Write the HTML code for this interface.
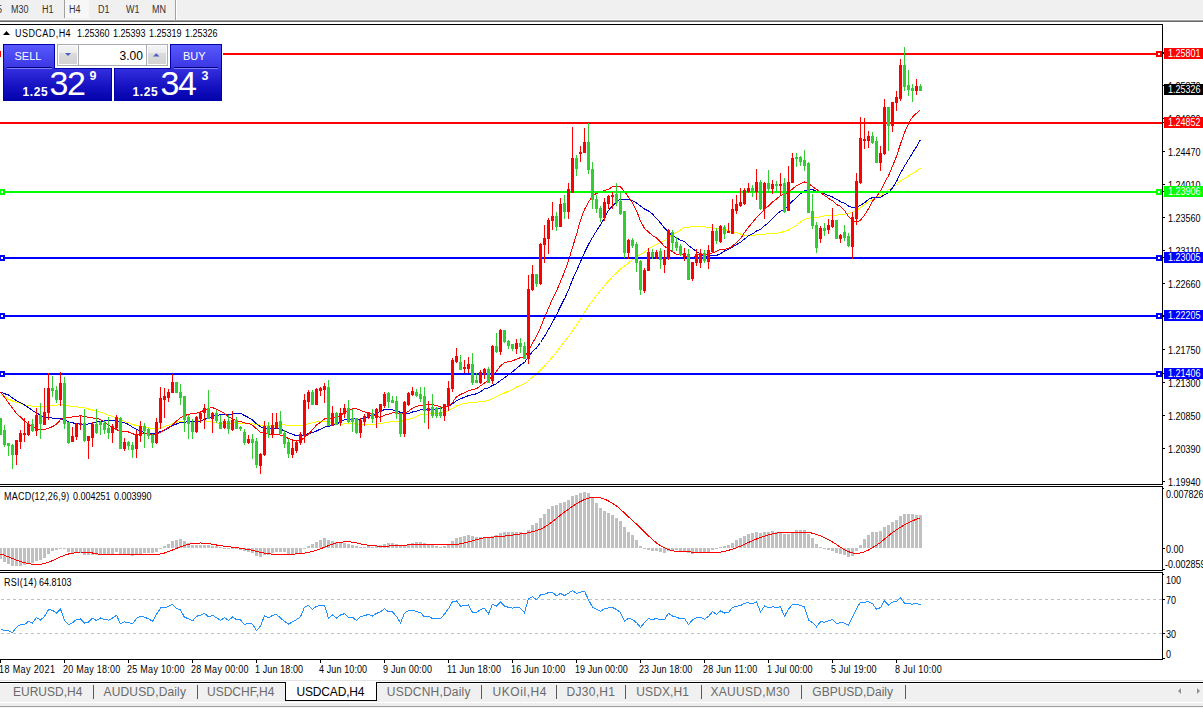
<!DOCTYPE html>
<html><head><meta charset="utf-8"><style>
*{margin:0;padding:0;box-sizing:border-box}
html,body{width:1203px;height:708px;overflow:hidden;background:#fff}
body{position:relative;font-family:"Liberation Sans",sans-serif}
.t{position:absolute;white-space:nowrap;font-size:10px;line-height:10px;color:#000;transform:scaleX(0.9);transform-origin:0 0}
.w{color:#fff}
.tb{color:#333}
.p{position:absolute;white-space:nowrap;color:#fff;line-height:1}
.hd{letter-spacing:0.5px}
svg{position:absolute;left:0;top:0}
</style></head><body>
<svg width="1203" height="708" shape-rendering="crispEdges">
<defs>
<clipPath id="cmain"><rect x="0" y="25" width="1162" height="459"/></clipPath>
<clipPath id="cmacd"><rect x="0" y="487" width="1162" height="83"/></clipPath>
<clipPath id="crsi"><rect x="0" y="573" width="1162" height="86"/></clipPath>
</defs>
<rect x="0" y="0" width="1203" height="19" fill="#f0f0f0"/>
<rect x="0" y="19" width="1203" height="1" fill="#f7f7f7"/>
<rect x="0" y="20" width="1203" height="1" fill="#a0a0a0"/>
<rect x="0" y="21" width="1203" height="1" fill="#696969"/>
<rect x="65" y="0" width="24" height="18" fill="#f7f7f7"/>
<rect x="64" y="0" width="1" height="18" fill="#a0a0a0"/>
<rect x="175" y="0" width="1" height="20" fill="#a0a0a0"/>
<rect x="176" y="0" width="1" height="20" fill="#ffffff"/>
<rect x="0" y="24" width="1163" height="1" fill="#000"/>
<rect x="1162" y="24" width="1" height="461" fill="#000"/>
<rect x="0" y="484" width="1163" height="1" fill="#000"/>
<rect x="0" y="486" width="1163" height="1" fill="#000"/>
<rect x="1162" y="486" width="1" height="85" fill="#000"/>
<rect x="0" y="570" width="1163" height="1" fill="#000"/>
<rect x="0" y="572" width="1163" height="1" fill="#000"/>
<rect x="1162" y="572" width="1" height="88" fill="#000"/>
<rect x="0" y="659" width="1163" height="1" fill="#000"/>
<g clip-path="url(#cmain)">
<polyline points="0.5,394.7 4.5,397.0 8.5,399.1 12.5,401.0 16.5,402.4 20.5,403.3 24.5,404.9 28.5,405.4 32.5,406.3 36.5,406.6 40.5,406.9 44.5,406.8 48.5,406.1 52.5,405.6 56.5,405.1 60.5,404.6 64.5,405.1 68.5,405.9 72.5,406.9 76.5,407.0 80.5,407.4 84.5,407.9 88.5,409.0 92.5,410.0 96.5,411.2 100.5,412.1 104.5,413.6 108.5,415.1 112.5,416.7 116.5,417.6 120.5,419.7 124.5,421.2 128.5,422.9 132.5,424.5 136.5,425.5 140.5,426.4 144.5,427.1 148.5,427.6 152.5,428.5 156.5,428.7 160.5,427.8 164.5,426.6 168.5,425.3 172.5,423.5 176.5,422.3 180.5,421.4 184.5,421.0 188.5,421.0 192.5,421.0 196.5,421.1 200.5,420.9 204.5,420.7 208.5,421.5 212.5,422.0 216.5,422.6 220.5,423.7 224.5,423.6 228.5,423.3 232.5,422.9 236.5,423.0 240.5,423.1 244.5,423.2 248.5,423.2 252.5,423.7 256.5,424.5 260.5,425.2 264.5,425.1 268.5,425.2 272.5,425.2 276.5,425.3 280.5,424.9 284.5,425.0 288.5,425.2 292.5,425.2 296.5,425.3 300.5,425.5 304.5,424.8 308.5,423.7 312.5,422.7 316.5,421.9 320.5,421.6 324.5,421.4 328.5,422.2 332.5,423.0 336.5,423.8 340.5,424.2 344.5,423.9 348.5,423.9 352.5,423.6 356.5,424.0 360.5,424.2 364.5,424.4 368.5,424.2 372.5,424.4 376.5,424.1 380.5,423.5 384.5,422.8 388.5,422.1 392.5,421.7 396.5,421.3 400.5,421.5 404.5,420.5 408.5,419.3 412.5,418.1 416.5,416.3 420.5,414.9 424.5,414.5 428.5,413.9 432.5,413.6 436.5,413.5 440.5,413.0 444.5,412.0 448.5,410.4 452.5,408.2 456.5,406.0 460.5,404.4 464.5,403.6 468.5,402.9 472.5,402.3 476.5,402.1 480.5,401.8 484.5,401.3 488.5,400.2 492.5,398.6 496.5,396.7 500.5,394.7 504.5,393.0 508.5,391.1 512.5,389.3 516.5,387.0 520.5,385.2 524.5,383.7 528.5,380.6 532.5,377.0 536.5,373.9 540.5,369.9 544.5,366.0 548.5,361.5 552.5,356.8 556.5,352.2 560.5,346.4 564.5,341.6 568.5,336.5 572.5,330.7 576.5,325.0 580.5,318.9 584.5,312.2 588.5,306.2 592.5,300.8 596.5,295.6 600.5,290.7 604.5,285.6 608.5,280.9 612.5,276.7 616.5,272.9 620.5,269.0 624.5,266.1 628.5,263.0 632.5,259.6 636.5,256.6 640.5,254.5 644.5,252.0 648.5,248.8 652.5,246.5 656.5,244.1 660.5,242.3 664.5,240.2 668.5,237.3 672.5,234.7 676.5,232.3 680.5,230.0 684.5,227.4 688.5,227.1 692.5,226.8 696.5,226.1 700.5,226.3 704.5,226.9 708.5,227.6 712.5,228.0 716.5,228.4 720.5,228.9 724.5,229.5 728.5,230.5 732.5,231.8 736.5,232.7 740.5,234.0 744.5,235.2 748.5,235.6 752.5,235.4 756.5,234.8 760.5,234.6 764.5,234.1 768.5,233.9 772.5,233.6 776.5,233.2 780.5,232.5 784.5,231.5 788.5,230.0 792.5,227.8 796.5,225.3 800.5,222.0 804.5,219.4 808.5,218.4 812.5,217.6 816.5,217.5 820.5,216.7 824.5,216.0 828.5,215.9 832.5,215.4 836.5,215.1 840.5,214.6 844.5,214.2 848.5,213.4 852.5,212.3 856.5,210.4 860.5,207.6 864.5,204.5 868.5,201.7 872.5,199.5 876.5,197.5 880.5,195.7 884.5,192.5 888.5,189.9 892.5,187.2 896.5,184.5 900.5,181.1 904.5,178.5 908.5,176.0 912.5,173.5 916.5,171.1 920.5,168.1" fill="none" stroke="#ffff00" stroke-width="1"/>
<polyline points="0.5,392.0 4.5,393.7 8.5,395.0 12.5,398.0 16.5,400.6 20.5,402.8 24.5,405.0 28.5,407.7 32.5,410.5 36.5,413.1 40.5,415.0 44.5,417.3 48.5,417.5 52.5,418.1 56.5,418.9 60.5,418.4 64.5,420.0 68.5,421.8 72.5,422.8 76.5,423.6 80.5,424.1 84.5,424.3 88.5,424.0 92.5,423.0 96.5,422.0 100.5,421.2 104.5,421.0 108.5,420.9 112.5,421.0 116.5,420.4 120.5,422.0 124.5,422.9 128.5,424.4 132.5,427.3 136.5,429.4 140.5,430.7 144.5,432.9 148.5,433.5 152.5,433.5 156.5,432.9 160.5,431.6 164.5,430.4 168.5,428.1 172.5,425.5 176.5,424.0 180.5,422.3 184.5,422.1 188.5,421.8 192.5,421.8 196.5,421.4 200.5,421.2 204.5,419.3 208.5,418.1 212.5,416.6 216.5,415.2 220.5,414.9 224.5,414.6 228.5,414.6 232.5,413.9 236.5,413.2 240.5,413.4 244.5,415.5 248.5,417.5 252.5,419.9 256.5,423.8 260.5,426.7 264.5,428.1 268.5,428.8 272.5,428.9 276.5,428.5 280.5,429.3 284.5,430.7 288.5,432.9 292.5,434.3 296.5,435.7 300.5,436.3 304.5,435.0 308.5,433.7 312.5,432.5 316.5,431.0 320.5,429.1 324.5,427.1 328.5,426.3 332.5,425.1 336.5,424.2 340.5,421.8 344.5,419.6 348.5,419.4 352.5,418.8 356.5,419.1 360.5,419.0 364.5,418.2 368.5,416.7 372.5,415.0 376.5,413.2 380.5,411.4 384.5,409.5 388.5,409.5 392.5,410.0 396.5,410.4 400.5,412.6 404.5,413.3 408.5,413.6 412.5,412.0 416.5,411.1 420.5,409.9 424.5,409.7 428.5,409.7 432.5,409.4 436.5,409.2 440.5,408.3 444.5,407.6 448.5,406.2 452.5,403.7 456.5,400.8 460.5,398.9 464.5,397.1 468.5,395.6 472.5,394.7 476.5,393.8 480.5,391.8 484.5,388.8 488.5,387.8 492.5,385.5 496.5,383.6 500.5,380.5 504.5,377.8 508.5,374.7 512.5,371.8 516.5,368.4 520.5,365.1 524.5,362.4 528.5,356.9 532.5,351.5 536.5,347.9 540.5,342.5 544.5,336.3 548.5,329.3 552.5,322.3 556.5,314.9 560.5,306.4 564.5,298.7 568.5,290.2 572.5,279.6 576.5,271.1 580.5,261.6 584.5,252.6 588.5,244.4 592.5,237.5 596.5,230.9 600.5,224.8 604.5,218.0 608.5,210.3 612.5,205.8 616.5,202.4 620.5,199.0 624.5,199.4 628.5,199.5 632.5,200.7 636.5,202.9 640.5,205.9 644.5,209.0 648.5,210.9 652.5,214.1 656.5,218.6 660.5,222.9 664.5,228.0 668.5,232.2 672.5,235.6 676.5,237.9 680.5,240.1 684.5,241.8 688.5,245.5 692.5,248.6 696.5,251.5 700.5,253.9 704.5,256.1 708.5,256.0 712.5,255.6 716.5,255.4 720.5,253.7 724.5,251.0 728.5,249.2 732.5,247.1 736.5,244.7 740.5,242.3 744.5,239.0 748.5,235.7 752.5,233.9 756.5,231.0 760.5,229.2 764.5,225.8 768.5,222.7 772.5,218.2 776.5,214.5 780.5,211.2 784.5,209.2 788.5,205.4 792.5,201.1 796.5,197.6 800.5,193.8 804.5,190.9 808.5,189.9 812.5,189.6 816.5,191.4 820.5,192.5 824.5,193.8 828.5,195.5 832.5,197.0 836.5,199.2 840.5,201.7 844.5,203.1 848.5,206.0 852.5,207.4 856.5,207.3 860.5,205.1 864.5,202.9 868.5,199.4 872.5,197.5 876.5,197.6 880.5,197.4 884.5,194.8 888.5,192.9 892.5,187.7 896.5,181.6 900.5,172.9 904.5,166.2 908.5,159.5 912.5,153.0 916.5,146.7 920.5,139.6" fill="none" stroke="#0000cd" stroke-width="1"/>
<polyline points="0.5,391.8 4.5,397.0 8.5,403.0 12.5,408.2 16.5,413.6 20.5,417.0 24.5,421.0 28.5,424.0 32.5,426.6 36.5,428.4 40.5,429.7 44.5,429.6 48.5,428.2 52.5,426.6 56.5,424.1 60.5,419.7 64.5,418.2 68.5,417.3 72.5,417.0 76.5,416.4 80.5,415.7 84.5,416.8 88.5,417.2 92.5,417.9 96.5,418.6 100.5,419.4 104.5,422.3 108.5,425.2 112.5,427.2 116.5,429.6 120.5,431.4 124.5,431.4 128.5,432.0 132.5,433.8 136.5,434.6 140.5,433.6 144.5,433.1 148.5,433.9 152.5,434.6 156.5,434.5 160.5,432.3 164.5,429.8 168.5,427.4 172.5,424.9 176.5,421.0 180.5,417.8 184.5,415.9 188.5,414.1 192.5,413.8 196.5,413.2 200.5,412.0 204.5,410.1 208.5,408.3 212.5,407.6 216.5,409.1 220.5,411.4 224.5,413.4 228.5,416.7 232.5,418.7 236.5,420.9 240.5,421.6 244.5,422.9 248.5,423.5 252.5,425.2 256.5,428.8 260.5,432.2 264.5,432.8 268.5,434.2 272.5,434.6 276.5,434.2 280.5,435.1 284.5,436.2 288.5,438.6 292.5,440.0 296.5,441.0 300.5,440.4 304.5,437.6 308.5,434.1 312.5,429.7 316.5,425.1 320.5,422.3 324.5,419.0 328.5,418.9 332.5,418.3 336.5,417.6 340.5,415.5 344.5,412.3 348.5,410.3 352.5,408.9 356.5,408.8 360.5,410.2 364.5,411.9 368.5,412.5 372.5,414.6 376.5,416.1 380.5,417.4 384.5,415.2 388.5,414.3 392.5,412.7 396.5,412.7 400.5,414.5 404.5,413.2 408.5,411.2 412.5,408.3 416.5,406.5 420.5,405.2 424.5,405.0 428.5,404.3 432.5,404.8 436.5,405.5 440.5,407.0 444.5,407.3 448.5,406.3 452.5,402.4 456.5,396.9 460.5,394.5 464.5,392.6 468.5,390.7 472.5,389.7 476.5,388.6 480.5,385.9 484.5,383.1 488.5,380.7 492.5,375.7 496.5,371.2 500.5,365.9 504.5,362.6 508.5,361.5 512.5,360.9 516.5,359.1 520.5,357.6 524.5,357.2 528.5,350.5 532.5,342.8 536.5,336.5 540.5,327.6 544.5,317.3 548.5,308.3 552.5,298.7 556.5,291.3 560.5,281.5 564.5,271.9 568.5,260.6 572.5,247.4 576.5,234.7 580.5,220.0 584.5,209.5 588.5,202.0 592.5,196.0 596.5,193.4 600.5,191.9 604.5,190.7 608.5,189.2 612.5,186.9 616.5,186.8 620.5,186.9 624.5,191.4 628.5,197.2 632.5,202.8 636.5,210.6 640.5,221.1 644.5,228.3 648.5,232.1 652.5,235.5 656.5,238.0 660.5,242.0 664.5,246.4 668.5,249.0 672.5,251.8 676.5,254.2 680.5,254.4 684.5,255.3 688.5,257.8 692.5,257.8 696.5,255.3 700.5,254.1 704.5,254.7 708.5,254.3 712.5,252.8 716.5,251.5 720.5,249.2 724.5,249.4 728.5,248.6 732.5,246.0 736.5,242.4 740.5,238.8 744.5,232.4 748.5,227.1 752.5,222.6 756.5,217.5 760.5,213.8 764.5,209.0 768.5,206.0 772.5,202.0 776.5,199.1 780.5,195.5 784.5,194.1 788.5,192.2 792.5,188.9 796.5,185.8 800.5,183.7 804.5,182.0 808.5,183.5 812.5,186.5 816.5,189.3 820.5,192.5 824.5,195.4 828.5,198.3 832.5,200.8 836.5,204.6 840.5,206.4 844.5,210.3 848.5,216.5 852.5,220.7 856.5,222.2 860.5,220.3 864.5,215.1 868.5,208.7 872.5,201.3 876.5,196.5 880.5,191.1 884.5,182.7 888.5,175.8 892.5,166.2 896.5,156.3 900.5,144.0 904.5,132.7 908.5,123.5 912.5,116.9 916.5,113.2 920.5,109.7" fill="none" stroke="#ff0000" stroke-width="1"/>
</g>
<rect x="0" y="53" width="1162" height="2" fill="#ff0000"/>
<rect x="0" y="122" width="1162" height="2" fill="#ff0000"/>
<rect x="0" y="191" width="1162" height="2" fill="#00ff00"/>
<rect x="0" y="257" width="1162" height="2" fill="#0000ff"/>
<rect x="0" y="315" width="1162" height="2" fill="#0000ff"/>
<rect x="0" y="373" width="1162" height="2" fill="#0000ff"/>
<g clip-path="url(#cmain)">
<rect x="0" y="418" width="1" height="17" fill="#32cd32"/>
<rect x="-1" y="418" width="3" height="17" fill="#32cd32"/>
<rect x="4" y="425" width="1" height="22" fill="#32cd32"/>
<rect x="3" y="430" width="3" height="15" fill="#32cd32"/>
<rect x="8" y="443" width="1" height="13" fill="#32cd32"/>
<rect x="7" y="443" width="3" height="3" fill="#32cd32"/>
<rect x="12" y="444" width="1" height="25" fill="#32cd32"/>
<rect x="11" y="445" width="3" height="10" fill="#32cd32"/>
<rect x="16" y="440" width="1" height="25" fill="#ff0000"/>
<rect x="15" y="440" width="3" height="15" fill="#ff0000"/>
<rect x="20" y="430" width="1" height="19" fill="#ff0000"/>
<rect x="19" y="433" width="3" height="9" fill="#ff0000"/>
<rect x="24" y="418" width="1" height="24" fill="#ff0000"/>
<rect x="23" y="433" width="3" height="2" fill="#ff0000"/>
<rect x="28" y="421" width="1" height="15" fill="#ff0000"/>
<rect x="27" y="424" width="3" height="11" fill="#ff0000"/>
<rect x="32" y="419" width="1" height="13" fill="#32cd32"/>
<rect x="31" y="424" width="3" height="7" fill="#32cd32"/>
<rect x="36" y="408" width="1" height="28" fill="#ff0000"/>
<rect x="35" y="415" width="3" height="16" fill="#ff0000"/>
<rect x="40" y="403" width="1" height="36" fill="#32cd32"/>
<rect x="39" y="415" width="3" height="9" fill="#32cd32"/>
<rect x="44" y="388" width="1" height="37" fill="#ff0000"/>
<rect x="43" y="412" width="3" height="13" fill="#ff0000"/>
<rect x="48" y="373" width="1" height="47" fill="#ff0000"/>
<rect x="47" y="388" width="3" height="25" fill="#ff0000"/>
<rect x="52" y="376" width="1" height="21" fill="#32cd32"/>
<rect x="51" y="388" width="3" height="3" fill="#32cd32"/>
<rect x="56" y="386" width="1" height="17" fill="#32cd32"/>
<rect x="55" y="390" width="3" height="10" fill="#32cd32"/>
<rect x="60" y="372" width="1" height="34" fill="#ff0000"/>
<rect x="59" y="383" width="3" height="17" fill="#ff0000"/>
<rect x="64" y="377" width="1" height="52" fill="#32cd32"/>
<rect x="63" y="383" width="3" height="41" fill="#32cd32"/>
<rect x="68" y="422" width="1" height="22" fill="#32cd32"/>
<rect x="67" y="422" width="3" height="21" fill="#32cd32"/>
<rect x="72" y="427" width="1" height="15" fill="#ff0000"/>
<rect x="71" y="436" width="3" height="6" fill="#ff0000"/>
<rect x="76" y="423" width="1" height="17" fill="#ff0000"/>
<rect x="75" y="424" width="3" height="13" fill="#ff0000"/>
<rect x="80" y="415" width="1" height="15" fill="#ff0000"/>
<rect x="79" y="423" width="3" height="2" fill="#ff0000"/>
<rect x="84" y="409" width="1" height="33" fill="#32cd32"/>
<rect x="83" y="423" width="3" height="18" fill="#32cd32"/>
<rect x="88" y="436" width="1" height="23" fill="#ff0000"/>
<rect x="87" y="436" width="3" height="5" fill="#ff0000"/>
<rect x="92" y="422" width="1" height="25" fill="#ff0000"/>
<rect x="91" y="424" width="3" height="14" fill="#ff0000"/>
<rect x="96" y="409" width="1" height="25" fill="#32cd32"/>
<rect x="95" y="424" width="3" height="9" fill="#32cd32"/>
<rect x="100" y="421" width="1" height="14" fill="#32cd32"/>
<rect x="99" y="422" width="3" height="3" fill="#32cd32"/>
<rect x="104" y="421" width="1" height="13" fill="#32cd32"/>
<rect x="103" y="423" width="3" height="7" fill="#32cd32"/>
<rect x="108" y="417" width="1" height="22" fill="#32cd32"/>
<rect x="107" y="428" width="3" height="5" fill="#32cd32"/>
<rect x="112" y="424" width="1" height="19" fill="#ff0000"/>
<rect x="111" y="426" width="3" height="7" fill="#ff0000"/>
<rect x="116" y="415" width="1" height="14" fill="#ff0000"/>
<rect x="115" y="417" width="3" height="11" fill="#ff0000"/>
<rect x="120" y="417" width="1" height="32" fill="#32cd32"/>
<rect x="119" y="418" width="3" height="31" fill="#32cd32"/>
<rect x="124" y="438" width="1" height="13" fill="#ff0000"/>
<rect x="123" y="442" width="3" height="7" fill="#ff0000"/>
<rect x="128" y="441" width="1" height="9" fill="#32cd32"/>
<rect x="127" y="442" width="3" height="4" fill="#32cd32"/>
<rect x="132" y="442" width="1" height="16" fill="#32cd32"/>
<rect x="131" y="445" width="3" height="5" fill="#32cd32"/>
<rect x="136" y="430" width="1" height="28" fill="#ff0000"/>
<rect x="135" y="434" width="3" height="15" fill="#ff0000"/>
<rect x="140" y="421" width="1" height="21" fill="#ff0000"/>
<rect x="139" y="426" width="3" height="10" fill="#ff0000"/>
<rect x="144" y="423" width="1" height="25" fill="#32cd32"/>
<rect x="143" y="426" width="3" height="5" fill="#32cd32"/>
<rect x="148" y="428" width="1" height="11" fill="#32cd32"/>
<rect x="147" y="429" width="3" height="7" fill="#32cd32"/>
<rect x="152" y="434" width="1" height="14" fill="#32cd32"/>
<rect x="151" y="435" width="3" height="8" fill="#32cd32"/>
<rect x="156" y="418" width="1" height="26" fill="#ff0000"/>
<rect x="155" y="422" width="3" height="21" fill="#ff0000"/>
<rect x="160" y="387" width="1" height="42" fill="#ff0000"/>
<rect x="159" y="398" width="3" height="25" fill="#ff0000"/>
<rect x="164" y="388" width="1" height="30" fill="#ff0000"/>
<rect x="163" y="396" width="3" height="4" fill="#ff0000"/>
<rect x="168" y="389" width="1" height="13" fill="#ff0000"/>
<rect x="167" y="392" width="3" height="6" fill="#ff0000"/>
<rect x="172" y="374" width="1" height="19" fill="#ff0000"/>
<rect x="171" y="382" width="3" height="11" fill="#ff0000"/>
<rect x="176" y="382" width="1" height="11" fill="#32cd32"/>
<rect x="175" y="382" width="3" height="11" fill="#32cd32"/>
<rect x="180" y="384" width="1" height="21" fill="#32cd32"/>
<rect x="179" y="392" width="3" height="6" fill="#32cd32"/>
<rect x="184" y="396" width="1" height="36" fill="#32cd32"/>
<rect x="183" y="396" width="3" height="24" fill="#32cd32"/>
<rect x="188" y="415" width="1" height="24" fill="#32cd32"/>
<rect x="187" y="417" width="3" height="7" fill="#32cd32"/>
<rect x="192" y="419" width="1" height="20" fill="#32cd32"/>
<rect x="191" y="422" width="3" height="10" fill="#32cd32"/>
<rect x="196" y="416" width="1" height="17" fill="#ff0000"/>
<rect x="195" y="417" width="3" height="15" fill="#ff0000"/>
<rect x="200" y="412" width="1" height="11" fill="#ff0000"/>
<rect x="199" y="413" width="3" height="6" fill="#ff0000"/>
<rect x="204" y="404" width="1" height="25" fill="#ff0000"/>
<rect x="203" y="408" width="3" height="5" fill="#ff0000"/>
<rect x="208" y="390" width="1" height="29" fill="#32cd32"/>
<rect x="207" y="408" width="3" height="11" fill="#32cd32"/>
<rect x="212" y="412" width="1" height="21" fill="#ff0000"/>
<rect x="211" y="413" width="3" height="6" fill="#ff0000"/>
<rect x="216" y="410" width="1" height="13" fill="#32cd32"/>
<rect x="215" y="413" width="3" height="8" fill="#32cd32"/>
<rect x="220" y="415" width="1" height="14" fill="#32cd32"/>
<rect x="219" y="422" width="3" height="7" fill="#32cd32"/>
<rect x="224" y="419" width="1" height="10" fill="#ff0000"/>
<rect x="223" y="421" width="3" height="7" fill="#ff0000"/>
<rect x="228" y="415" width="1" height="19" fill="#32cd32"/>
<rect x="227" y="421" width="3" height="8" fill="#32cd32"/>
<rect x="232" y="411" width="1" height="20" fill="#ff0000"/>
<rect x="231" y="420" width="3" height="10" fill="#ff0000"/>
<rect x="236" y="417" width="1" height="12" fill="#32cd32"/>
<rect x="235" y="420" width="3" height="9" fill="#32cd32"/>
<rect x="240" y="426" width="1" height="5" fill="#32cd32"/>
<rect x="239" y="427" width="3" height="2" fill="#32cd32"/>
<rect x="244" y="429" width="1" height="16" fill="#32cd32"/>
<rect x="243" y="432" width="3" height="11" fill="#32cd32"/>
<rect x="248" y="435" width="1" height="9" fill="#ff0000"/>
<rect x="247" y="439" width="3" height="4" fill="#ff0000"/>
<rect x="252" y="434" width="1" height="25" fill="#32cd32"/>
<rect x="251" y="439" width="3" height="4" fill="#32cd32"/>
<rect x="256" y="438" width="1" height="30" fill="#32cd32"/>
<rect x="255" y="441" width="3" height="24" fill="#32cd32"/>
<rect x="260" y="453" width="1" height="21" fill="#ff0000"/>
<rect x="259" y="454" width="3" height="12" fill="#ff0000"/>
<rect x="264" y="421" width="1" height="35" fill="#ff0000"/>
<rect x="263" y="426" width="3" height="29" fill="#ff0000"/>
<rect x="268" y="422" width="1" height="16" fill="#32cd32"/>
<rect x="267" y="426" width="3" height="8" fill="#32cd32"/>
<rect x="272" y="413" width="1" height="25" fill="#ff0000"/>
<rect x="271" y="425" width="3" height="9" fill="#ff0000"/>
<rect x="276" y="413" width="1" height="16" fill="#ff0000"/>
<rect x="275" y="422" width="3" height="6" fill="#ff0000"/>
<rect x="280" y="411" width="1" height="23" fill="#32cd32"/>
<rect x="279" y="421" width="3" height="13" fill="#32cd32"/>
<rect x="284" y="430" width="1" height="18" fill="#32cd32"/>
<rect x="283" y="433" width="3" height="11" fill="#32cd32"/>
<rect x="288" y="439" width="1" height="19" fill="#32cd32"/>
<rect x="287" y="442" width="3" height="12" fill="#32cd32"/>
<rect x="292" y="441" width="1" height="17" fill="#ff0000"/>
<rect x="291" y="448" width="3" height="7" fill="#ff0000"/>
<rect x="296" y="440" width="1" height="13" fill="#ff0000"/>
<rect x="295" y="442" width="3" height="9" fill="#ff0000"/>
<rect x="300" y="432" width="1" height="13" fill="#ff0000"/>
<rect x="299" y="434" width="3" height="9" fill="#ff0000"/>
<rect x="304" y="394" width="1" height="49" fill="#ff0000"/>
<rect x="303" y="400" width="3" height="36" fill="#ff0000"/>
<rect x="308" y="390" width="1" height="19" fill="#ff0000"/>
<rect x="307" y="392" width="3" height="10" fill="#ff0000"/>
<rect x="312" y="390" width="1" height="15" fill="#32cd32"/>
<rect x="311" y="392" width="3" height="13" fill="#32cd32"/>
<rect x="316" y="388" width="1" height="17" fill="#ff0000"/>
<rect x="315" y="389" width="3" height="16" fill="#ff0000"/>
<rect x="320" y="387" width="1" height="9" fill="#ff0000"/>
<rect x="319" y="388" width="3" height="3" fill="#ff0000"/>
<rect x="324" y="383" width="1" height="20" fill="#ff0000"/>
<rect x="323" y="386" width="3" height="4" fill="#ff0000"/>
<rect x="328" y="380" width="1" height="46" fill="#32cd32"/>
<rect x="327" y="387" width="3" height="39" fill="#32cd32"/>
<rect x="332" y="406" width="1" height="20" fill="#ff0000"/>
<rect x="331" y="413" width="3" height="13" fill="#ff0000"/>
<rect x="336" y="412" width="1" height="13" fill="#32cd32"/>
<rect x="335" y="413" width="3" height="12" fill="#32cd32"/>
<rect x="340" y="408" width="1" height="18" fill="#ff0000"/>
<rect x="339" y="413" width="3" height="10" fill="#ff0000"/>
<rect x="344" y="404" width="1" height="14" fill="#ff0000"/>
<rect x="343" y="408" width="3" height="6" fill="#ff0000"/>
<rect x="348" y="400" width="1" height="23" fill="#32cd32"/>
<rect x="347" y="408" width="3" height="14" fill="#32cd32"/>
<rect x="352" y="409" width="1" height="23" fill="#32cd32"/>
<rect x="351" y="418" width="3" height="4" fill="#32cd32"/>
<rect x="356" y="418" width="1" height="16" fill="#32cd32"/>
<rect x="355" y="418" width="3" height="15" fill="#32cd32"/>
<rect x="360" y="418" width="1" height="20" fill="#ff0000"/>
<rect x="359" y="420" width="3" height="13" fill="#ff0000"/>
<rect x="364" y="414" width="1" height="12" fill="#ff0000"/>
<rect x="363" y="416" width="3" height="6" fill="#ff0000"/>
<rect x="368" y="412" width="1" height="7" fill="#ff0000"/>
<rect x="367" y="412" width="3" height="6" fill="#ff0000"/>
<rect x="372" y="409" width="1" height="14" fill="#32cd32"/>
<rect x="371" y="413" width="3" height="6" fill="#32cd32"/>
<rect x="376" y="408" width="1" height="20" fill="#ff0000"/>
<rect x="375" y="409" width="3" height="9" fill="#ff0000"/>
<rect x="380" y="404" width="1" height="18" fill="#ff0000"/>
<rect x="379" y="404" width="3" height="8" fill="#ff0000"/>
<rect x="384" y="392" width="1" height="16" fill="#ff0000"/>
<rect x="383" y="394" width="3" height="12" fill="#ff0000"/>
<rect x="388" y="392" width="1" height="16" fill="#32cd32"/>
<rect x="387" y="393" width="3" height="9" fill="#32cd32"/>
<rect x="392" y="396" width="1" height="7" fill="#32cd32"/>
<rect x="391" y="400" width="3" height="3" fill="#32cd32"/>
<rect x="396" y="396" width="1" height="23" fill="#32cd32"/>
<rect x="395" y="401" width="3" height="13" fill="#32cd32"/>
<rect x="400" y="413" width="1" height="24" fill="#32cd32"/>
<rect x="399" y="413" width="3" height="21" fill="#32cd32"/>
<rect x="404" y="401" width="1" height="36" fill="#ff0000"/>
<rect x="403" y="402" width="3" height="32" fill="#ff0000"/>
<rect x="408" y="392" width="1" height="14" fill="#ff0000"/>
<rect x="407" y="393" width="3" height="12" fill="#ff0000"/>
<rect x="412" y="387" width="1" height="9" fill="#ff0000"/>
<rect x="411" y="391" width="3" height="4" fill="#ff0000"/>
<rect x="416" y="389" width="1" height="8" fill="#32cd32"/>
<rect x="415" y="392" width="3" height="4" fill="#32cd32"/>
<rect x="420" y="387" width="1" height="15" fill="#32cd32"/>
<rect x="419" y="394" width="3" height="5" fill="#32cd32"/>
<rect x="424" y="387" width="1" height="36" fill="#32cd32"/>
<rect x="423" y="396" width="3" height="15" fill="#32cd32"/>
<rect x="428" y="401" width="1" height="28" fill="#ff0000"/>
<rect x="427" y="408" width="3" height="3" fill="#ff0000"/>
<rect x="432" y="394" width="1" height="24" fill="#32cd32"/>
<rect x="431" y="407" width="3" height="9" fill="#32cd32"/>
<rect x="436" y="407" width="1" height="11" fill="#32cd32"/>
<rect x="435" y="408" width="3" height="8" fill="#32cd32"/>
<rect x="440" y="407" width="1" height="11" fill="#32cd32"/>
<rect x="439" y="412" width="3" height="4" fill="#32cd32"/>
<rect x="444" y="404" width="1" height="17" fill="#ff0000"/>
<rect x="443" y="404" width="3" height="12" fill="#ff0000"/>
<rect x="448" y="381" width="1" height="30" fill="#ff0000"/>
<rect x="447" y="388" width="3" height="18" fill="#ff0000"/>
<rect x="452" y="358" width="1" height="34" fill="#ff0000"/>
<rect x="451" y="360" width="3" height="29" fill="#ff0000"/>
<rect x="456" y="348" width="1" height="15" fill="#ff0000"/>
<rect x="455" y="356" width="3" height="6" fill="#ff0000"/>
<rect x="460" y="355" width="1" height="15" fill="#32cd32"/>
<rect x="459" y="362" width="3" height="8" fill="#32cd32"/>
<rect x="464" y="360" width="1" height="13" fill="#ff0000"/>
<rect x="463" y="367" width="3" height="2" fill="#ff0000"/>
<rect x="468" y="357" width="1" height="16" fill="#ff0000"/>
<rect x="467" y="364" width="3" height="5" fill="#ff0000"/>
<rect x="472" y="353" width="1" height="32" fill="#32cd32"/>
<rect x="471" y="364" width="3" height="19" fill="#32cd32"/>
<rect x="476" y="373" width="1" height="10" fill="#32cd32"/>
<rect x="475" y="380" width="3" height="3" fill="#32cd32"/>
<rect x="480" y="370" width="1" height="14" fill="#ff0000"/>
<rect x="479" y="372" width="3" height="11" fill="#ff0000"/>
<rect x="484" y="368" width="1" height="11" fill="#ff0000"/>
<rect x="483" y="369" width="3" height="6" fill="#ff0000"/>
<rect x="488" y="367" width="1" height="16" fill="#32cd32"/>
<rect x="487" y="369" width="3" height="14" fill="#32cd32"/>
<rect x="492" y="345" width="1" height="39" fill="#ff0000"/>
<rect x="491" y="346" width="3" height="35" fill="#ff0000"/>
<rect x="496" y="333" width="1" height="20" fill="#32cd32"/>
<rect x="495" y="346" width="3" height="6" fill="#32cd32"/>
<rect x="500" y="329" width="1" height="26" fill="#ff0000"/>
<rect x="499" y="330" width="3" height="22" fill="#ff0000"/>
<rect x="504" y="330" width="1" height="13" fill="#32cd32"/>
<rect x="503" y="330" width="3" height="12" fill="#32cd32"/>
<rect x="508" y="340" width="1" height="9" fill="#32cd32"/>
<rect x="507" y="341" width="3" height="5" fill="#32cd32"/>
<rect x="512" y="344" width="1" height="7" fill="#32cd32"/>
<rect x="511" y="344" width="3" height="5" fill="#32cd32"/>
<rect x="516" y="339" width="1" height="15" fill="#ff0000"/>
<rect x="515" y="343" width="3" height="6" fill="#ff0000"/>
<rect x="520" y="338" width="1" height="15" fill="#32cd32"/>
<rect x="519" y="343" width="3" height="4" fill="#32cd32"/>
<rect x="524" y="342" width="1" height="17" fill="#32cd32"/>
<rect x="523" y="346" width="3" height="13" fill="#32cd32"/>
<rect x="528" y="275" width="1" height="89" fill="#ff0000"/>
<rect x="527" y="289" width="3" height="70" fill="#ff0000"/>
<rect x="532" y="265" width="1" height="26" fill="#ff0000"/>
<rect x="531" y="274" width="3" height="16" fill="#ff0000"/>
<rect x="536" y="274" width="1" height="13" fill="#32cd32"/>
<rect x="535" y="274" width="3" height="10" fill="#32cd32"/>
<rect x="540" y="243" width="1" height="42" fill="#ff0000"/>
<rect x="539" y="244" width="3" height="40" fill="#ff0000"/>
<rect x="544" y="225" width="1" height="38" fill="#ff0000"/>
<rect x="543" y="238" width="3" height="7" fill="#ff0000"/>
<rect x="548" y="218" width="1" height="36" fill="#ff0000"/>
<rect x="547" y="220" width="3" height="19" fill="#ff0000"/>
<rect x="552" y="202" width="1" height="28" fill="#ff0000"/>
<rect x="551" y="216" width="3" height="5" fill="#ff0000"/>
<rect x="556" y="212" width="1" height="19" fill="#32cd32"/>
<rect x="555" y="216" width="3" height="11" fill="#32cd32"/>
<rect x="560" y="198" width="1" height="29" fill="#ff0000"/>
<rect x="559" y="204" width="3" height="23" fill="#ff0000"/>
<rect x="564" y="195" width="1" height="24" fill="#32cd32"/>
<rect x="563" y="203" width="3" height="9" fill="#32cd32"/>
<rect x="568" y="183" width="1" height="36" fill="#ff0000"/>
<rect x="567" y="189" width="3" height="23" fill="#ff0000"/>
<rect x="572" y="127" width="1" height="66" fill="#ff0000"/>
<rect x="571" y="158" width="3" height="35" fill="#ff0000"/>
<rect x="576" y="155" width="1" height="21" fill="#32cd32"/>
<rect x="575" y="158" width="3" height="11" fill="#32cd32"/>
<rect x="580" y="146" width="1" height="16" fill="#ff0000"/>
<rect x="579" y="152" width="3" height="2" fill="#ff0000"/>
<rect x="584" y="128" width="1" height="25" fill="#ff0000"/>
<rect x="583" y="142" width="3" height="11" fill="#ff0000"/>
<rect x="588" y="123" width="1" height="51" fill="#32cd32"/>
<rect x="587" y="142" width="3" height="28" fill="#32cd32"/>
<rect x="592" y="162" width="1" height="47" fill="#32cd32"/>
<rect x="591" y="169" width="3" height="31" fill="#32cd32"/>
<rect x="596" y="195" width="1" height="18" fill="#32cd32"/>
<rect x="595" y="199" width="3" height="10" fill="#32cd32"/>
<rect x="600" y="206" width="1" height="16" fill="#32cd32"/>
<rect x="599" y="208" width="3" height="10" fill="#32cd32"/>
<rect x="604" y="198" width="1" height="23" fill="#ff0000"/>
<rect x="603" y="202" width="3" height="16" fill="#ff0000"/>
<rect x="608" y="195" width="1" height="14" fill="#ff0000"/>
<rect x="607" y="196" width="3" height="8" fill="#ff0000"/>
<rect x="612" y="192" width="1" height="17" fill="#ff0000"/>
<rect x="611" y="195" width="3" height="2" fill="#ff0000"/>
<rect x="616" y="183" width="1" height="23" fill="#32cd32"/>
<rect x="615" y="194" width="3" height="9" fill="#32cd32"/>
<rect x="620" y="192" width="1" height="23" fill="#32cd32"/>
<rect x="619" y="201" width="3" height="13" fill="#32cd32"/>
<rect x="624" y="211" width="1" height="47" fill="#32cd32"/>
<rect x="623" y="211" width="3" height="42" fill="#32cd32"/>
<rect x="628" y="239" width="1" height="20" fill="#ff0000"/>
<rect x="627" y="240" width="3" height="13" fill="#ff0000"/>
<rect x="632" y="238" width="1" height="10" fill="#32cd32"/>
<rect x="631" y="240" width="3" height="6" fill="#32cd32"/>
<rect x="636" y="242" width="1" height="30" fill="#32cd32"/>
<rect x="635" y="244" width="3" height="19" fill="#32cd32"/>
<rect x="640" y="260" width="1" height="35" fill="#32cd32"/>
<rect x="639" y="261" width="3" height="29" fill="#32cd32"/>
<rect x="644" y="268" width="1" height="25" fill="#ff0000"/>
<rect x="643" y="270" width="3" height="21" fill="#ff0000"/>
<rect x="648" y="248" width="1" height="23" fill="#ff0000"/>
<rect x="647" y="252" width="3" height="19" fill="#ff0000"/>
<rect x="652" y="249" width="1" height="10" fill="#32cd32"/>
<rect x="651" y="252" width="3" height="5" fill="#32cd32"/>
<rect x="656" y="250" width="1" height="9" fill="#ff0000"/>
<rect x="655" y="252" width="3" height="5" fill="#ff0000"/>
<rect x="660" y="248" width="1" height="21" fill="#32cd32"/>
<rect x="659" y="251" width="3" height="9" fill="#32cd32"/>
<rect x="664" y="250" width="1" height="23" fill="#ff0000"/>
<rect x="663" y="258" width="3" height="7" fill="#ff0000"/>
<rect x="668" y="229" width="1" height="31" fill="#ff0000"/>
<rect x="667" y="230" width="3" height="29" fill="#ff0000"/>
<rect x="672" y="230" width="1" height="21" fill="#32cd32"/>
<rect x="671" y="232" width="3" height="11" fill="#32cd32"/>
<rect x="676" y="237" width="1" height="14" fill="#32cd32"/>
<rect x="675" y="242" width="3" height="6" fill="#32cd32"/>
<rect x="680" y="244" width="1" height="12" fill="#32cd32"/>
<rect x="679" y="246" width="3" height="9" fill="#32cd32"/>
<rect x="684" y="248" width="1" height="13" fill="#ff0000"/>
<rect x="683" y="253" width="3" height="4" fill="#ff0000"/>
<rect x="688" y="249" width="1" height="31" fill="#32cd32"/>
<rect x="687" y="254" width="3" height="26" fill="#32cd32"/>
<rect x="692" y="262" width="1" height="19" fill="#ff0000"/>
<rect x="691" y="262" width="3" height="17" fill="#ff0000"/>
<rect x="696" y="249" width="1" height="17" fill="#ff0000"/>
<rect x="695" y="254" width="3" height="9" fill="#ff0000"/>
<rect x="700" y="249" width="1" height="19" fill="#ff0000"/>
<rect x="699" y="253" width="3" height="10" fill="#ff0000"/>
<rect x="704" y="250" width="1" height="13" fill="#32cd32"/>
<rect x="703" y="253" width="3" height="8" fill="#32cd32"/>
<rect x="708" y="245" width="1" height="24" fill="#ff0000"/>
<rect x="707" y="250" width="3" height="12" fill="#ff0000"/>
<rect x="712" y="224" width="1" height="28" fill="#ff0000"/>
<rect x="711" y="231" width="3" height="21" fill="#ff0000"/>
<rect x="716" y="228" width="1" height="16" fill="#32cd32"/>
<rect x="715" y="231" width="3" height="10" fill="#32cd32"/>
<rect x="720" y="225" width="1" height="18" fill="#ff0000"/>
<rect x="719" y="226" width="3" height="16" fill="#ff0000"/>
<rect x="724" y="225" width="1" height="14" fill="#32cd32"/>
<rect x="723" y="227" width="3" height="7" fill="#32cd32"/>
<rect x="728" y="223" width="1" height="10" fill="#ff0000"/>
<rect x="727" y="231" width="3" height="2" fill="#ff0000"/>
<rect x="732" y="199" width="1" height="35" fill="#ff0000"/>
<rect x="731" y="209" width="3" height="25" fill="#ff0000"/>
<rect x="736" y="195" width="1" height="19" fill="#ff0000"/>
<rect x="735" y="204" width="3" height="7" fill="#ff0000"/>
<rect x="740" y="188" width="1" height="19" fill="#ff0000"/>
<rect x="739" y="202" width="3" height="4" fill="#ff0000"/>
<rect x="744" y="188" width="1" height="17" fill="#ff0000"/>
<rect x="743" y="190" width="3" height="14" fill="#ff0000"/>
<rect x="748" y="183" width="1" height="10" fill="#ff0000"/>
<rect x="747" y="188" width="3" height="4" fill="#ff0000"/>
<rect x="752" y="185" width="1" height="12" fill="#32cd32"/>
<rect x="751" y="188" width="3" height="4" fill="#32cd32"/>
<rect x="756" y="169" width="1" height="31" fill="#ff0000"/>
<rect x="755" y="182" width="3" height="10" fill="#ff0000"/>
<rect x="760" y="180" width="1" height="30" fill="#32cd32"/>
<rect x="759" y="182" width="3" height="27" fill="#32cd32"/>
<rect x="764" y="182" width="1" height="37" fill="#ff0000"/>
<rect x="763" y="183" width="3" height="26" fill="#ff0000"/>
<rect x="768" y="170" width="1" height="22" fill="#32cd32"/>
<rect x="767" y="183" width="3" height="6" fill="#32cd32"/>
<rect x="772" y="180" width="1" height="14" fill="#ff0000"/>
<rect x="771" y="184" width="3" height="5" fill="#ff0000"/>
<rect x="776" y="181" width="1" height="10" fill="#32cd32"/>
<rect x="775" y="184" width="3" height="2" fill="#32cd32"/>
<rect x="780" y="173" width="1" height="23" fill="#ff0000"/>
<rect x="779" y="184" width="3" height="2" fill="#ff0000"/>
<rect x="784" y="178" width="1" height="35" fill="#32cd32"/>
<rect x="783" y="183" width="3" height="29" fill="#32cd32"/>
<rect x="788" y="166" width="1" height="45" fill="#ff0000"/>
<rect x="787" y="182" width="3" height="29" fill="#ff0000"/>
<rect x="792" y="153" width="1" height="30" fill="#ff0000"/>
<rect x="791" y="158" width="3" height="25" fill="#ff0000"/>
<rect x="796" y="153" width="1" height="14" fill="#32cd32"/>
<rect x="795" y="157" width="3" height="2" fill="#32cd32"/>
<rect x="800" y="156" width="1" height="10" fill="#32cd32"/>
<rect x="799" y="157" width="3" height="5" fill="#32cd32"/>
<rect x="804" y="150" width="1" height="21" fill="#32cd32"/>
<rect x="803" y="160" width="3" height="6" fill="#32cd32"/>
<rect x="808" y="162" width="1" height="51" fill="#32cd32"/>
<rect x="807" y="163" width="3" height="50" fill="#32cd32"/>
<rect x="812" y="194" width="1" height="35" fill="#32cd32"/>
<rect x="811" y="211" width="3" height="15" fill="#32cd32"/>
<rect x="816" y="222" width="1" height="31" fill="#32cd32"/>
<rect x="815" y="225" width="3" height="23" fill="#32cd32"/>
<rect x="820" y="226" width="1" height="17" fill="#ff0000"/>
<rect x="819" y="228" width="3" height="11" fill="#ff0000"/>
<rect x="824" y="223" width="1" height="13" fill="#32cd32"/>
<rect x="823" y="228" width="3" height="3" fill="#32cd32"/>
<rect x="828" y="219" width="1" height="15" fill="#ff0000"/>
<rect x="827" y="225" width="3" height="5" fill="#ff0000"/>
<rect x="832" y="208" width="1" height="20" fill="#ff0000"/>
<rect x="831" y="220" width="3" height="7" fill="#ff0000"/>
<rect x="836" y="220" width="1" height="19" fill="#32cd32"/>
<rect x="835" y="220" width="3" height="19" fill="#32cd32"/>
<rect x="840" y="234" width="1" height="9" fill="#ff0000"/>
<rect x="839" y="235" width="3" height="4" fill="#ff0000"/>
<rect x="844" y="225" width="1" height="16" fill="#32cd32"/>
<rect x="843" y="232" width="3" height="6" fill="#32cd32"/>
<rect x="848" y="233" width="1" height="14" fill="#32cd32"/>
<rect x="847" y="236" width="3" height="10" fill="#32cd32"/>
<rect x="852" y="212" width="1" height="47" fill="#ff0000"/>
<rect x="851" y="217" width="3" height="30" fill="#ff0000"/>
<rect x="856" y="173" width="1" height="52" fill="#ff0000"/>
<rect x="855" y="181" width="3" height="38" fill="#ff0000"/>
<rect x="860" y="117" width="1" height="67" fill="#ff0000"/>
<rect x="859" y="138" width="3" height="45" fill="#ff0000"/>
<rect x="864" y="118" width="1" height="31" fill="#ff0000"/>
<rect x="863" y="139" width="3" height="2" fill="#ff0000"/>
<rect x="868" y="131" width="1" height="17" fill="#ff0000"/>
<rect x="867" y="136" width="3" height="5" fill="#ff0000"/>
<rect x="872" y="132" width="1" height="12" fill="#32cd32"/>
<rect x="871" y="136" width="3" height="7" fill="#32cd32"/>
<rect x="876" y="137" width="1" height="26" fill="#32cd32"/>
<rect x="875" y="141" width="3" height="22" fill="#32cd32"/>
<rect x="880" y="146" width="1" height="25" fill="#ff0000"/>
<rect x="879" y="153" width="3" height="10" fill="#ff0000"/>
<rect x="884" y="99" width="1" height="56" fill="#ff0000"/>
<rect x="883" y="107" width="3" height="47" fill="#ff0000"/>
<rect x="888" y="107" width="1" height="44" fill="#32cd32"/>
<rect x="887" y="107" width="3" height="19" fill="#32cd32"/>
<rect x="892" y="102" width="1" height="30" fill="#ff0000"/>
<rect x="891" y="102" width="3" height="24" fill="#ff0000"/>
<rect x="896" y="91" width="1" height="20" fill="#ff0000"/>
<rect x="895" y="97" width="3" height="6" fill="#ff0000"/>
<rect x="900" y="59" width="1" height="42" fill="#ff0000"/>
<rect x="899" y="65" width="3" height="34" fill="#ff0000"/>
<rect x="904" y="47" width="1" height="44" fill="#32cd32"/>
<rect x="903" y="65" width="3" height="22" fill="#32cd32"/>
<rect x="908" y="70" width="1" height="26" fill="#32cd32"/>
<rect x="907" y="85" width="3" height="5" fill="#32cd32"/>
<rect x="912" y="84" width="1" height="18" fill="#32cd32"/>
<rect x="911" y="88" width="3" height="3" fill="#32cd32"/>
<rect x="916" y="79" width="1" height="16" fill="#ff0000"/>
<rect x="915" y="86" width="3" height="5" fill="#ff0000"/>
<rect x="920" y="84" width="1" height="7" fill="#32cd32"/>
<rect x="919" y="86" width="3" height="5" fill="#32cd32"/>
</g>
<rect x="-1" y="51" width="6" height="6" fill="#ff0000"/>
<rect x="1" y="53" width="2" height="2" fill="#fff"/>
<rect x="1156" y="51" width="6" height="6" fill="#ff0000"/>
<rect x="1158" y="53" width="2" height="2" fill="#fff"/>
<rect x="-1" y="189" width="6" height="6" fill="#00ff00"/>
<rect x="1" y="191" width="2" height="2" fill="#fff"/>
<rect x="1156" y="189" width="6" height="6" fill="#00ff00"/>
<rect x="1158" y="191" width="2" height="2" fill="#fff"/>
<rect x="-1" y="255" width="6" height="6" fill="#0000ff"/>
<rect x="1" y="257" width="2" height="2" fill="#fff"/>
<rect x="1156" y="255" width="6" height="6" fill="#0000ff"/>
<rect x="1158" y="257" width="2" height="2" fill="#fff"/>
<rect x="-1" y="313" width="6" height="6" fill="#0000ff"/>
<rect x="1" y="315" width="2" height="2" fill="#fff"/>
<rect x="1156" y="313" width="6" height="6" fill="#0000ff"/>
<rect x="1158" y="315" width="2" height="2" fill="#fff"/>
<rect x="-1" y="371" width="6" height="6" fill="#0000ff"/>
<rect x="1" y="373" width="2" height="2" fill="#fff"/>
<rect x="1156" y="371" width="6" height="6" fill="#0000ff"/>
<rect x="1158" y="373" width="2" height="2" fill="#fff"/>
<g clip-path="url(#cmacd)">
<rect x="-1" y="548" width="3" height="11" fill="#c0c0c0"/>
<rect x="3" y="548" width="3" height="14" fill="#c0c0c0"/>
<rect x="7" y="548" width="3" height="16" fill="#c0c0c0"/>
<rect x="11" y="548" width="3" height="18" fill="#c0c0c0"/>
<rect x="15" y="548" width="3" height="18" fill="#c0c0c0"/>
<rect x="19" y="548" width="3" height="18" fill="#c0c0c0"/>
<rect x="23" y="548" width="3" height="17" fill="#c0c0c0"/>
<rect x="27" y="548" width="3" height="16" fill="#c0c0c0"/>
<rect x="31" y="548" width="3" height="15" fill="#c0c0c0"/>
<rect x="35" y="548" width="3" height="13" fill="#c0c0c0"/>
<rect x="39" y="548" width="3" height="12" fill="#c0c0c0"/>
<rect x="43" y="548" width="3" height="10" fill="#c0c0c0"/>
<rect x="47" y="548" width="3" height="6" fill="#c0c0c0"/>
<rect x="51" y="548" width="3" height="3" fill="#c0c0c0"/>
<rect x="55" y="548" width="3" height="2" fill="#c0c0c0"/>
<rect x="59" y="548" width="3" height="1" fill="#c0c0c0"/>
<rect x="63" y="548" width="3" height="1" fill="#c0c0c0"/>
<rect x="67" y="548" width="3" height="4" fill="#c0c0c0"/>
<rect x="71" y="548" width="3" height="5" fill="#c0c0c0"/>
<rect x="75" y="548" width="3" height="5" fill="#c0c0c0"/>
<rect x="79" y="548" width="3" height="5" fill="#c0c0c0"/>
<rect x="83" y="548" width="3" height="7" fill="#c0c0c0"/>
<rect x="87" y="548" width="3" height="7" fill="#c0c0c0"/>
<rect x="91" y="548" width="3" height="7" fill="#c0c0c0"/>
<rect x="95" y="548" width="3" height="7" fill="#c0c0c0"/>
<rect x="99" y="548" width="3" height="6" fill="#c0c0c0"/>
<rect x="103" y="548" width="3" height="6" fill="#c0c0c0"/>
<rect x="107" y="548" width="3" height="6" fill="#c0c0c0"/>
<rect x="111" y="548" width="3" height="6" fill="#c0c0c0"/>
<rect x="115" y="548" width="3" height="4" fill="#c0c0c0"/>
<rect x="119" y="548" width="3" height="6" fill="#c0c0c0"/>
<rect x="123" y="548" width="3" height="7" fill="#c0c0c0"/>
<rect x="127" y="548" width="3" height="7" fill="#c0c0c0"/>
<rect x="131" y="548" width="3" height="8" fill="#c0c0c0"/>
<rect x="135" y="548" width="3" height="7" fill="#c0c0c0"/>
<rect x="139" y="548" width="3" height="6" fill="#c0c0c0"/>
<rect x="143" y="548" width="3" height="5" fill="#c0c0c0"/>
<rect x="147" y="548" width="3" height="5" fill="#c0c0c0"/>
<rect x="151" y="548" width="3" height="5" fill="#c0c0c0"/>
<rect x="155" y="548" width="3" height="4" fill="#c0c0c0"/>
<rect x="159" y="548" width="3" height="1" fill="#c0c0c0"/>
<rect x="163" y="546" width="3" height="2" fill="#c0c0c0"/>
<rect x="167" y="544" width="3" height="4" fill="#c0c0c0"/>
<rect x="171" y="541" width="3" height="7" fill="#c0c0c0"/>
<rect x="175" y="540" width="3" height="8" fill="#c0c0c0"/>
<rect x="179" y="539" width="3" height="9" fill="#c0c0c0"/>
<rect x="183" y="541" width="3" height="7" fill="#c0c0c0"/>
<rect x="187" y="543" width="3" height="5" fill="#c0c0c0"/>
<rect x="191" y="545" width="3" height="3" fill="#c0c0c0"/>
<rect x="195" y="545" width="3" height="3" fill="#c0c0c0"/>
<rect x="199" y="545" width="3" height="3" fill="#c0c0c0"/>
<rect x="203" y="545" width="3" height="3" fill="#c0c0c0"/>
<rect x="207" y="545" width="3" height="3" fill="#c0c0c0"/>
<rect x="211" y="546" width="3" height="2" fill="#c0c0c0"/>
<rect x="215" y="546" width="3" height="2" fill="#c0c0c0"/>
<rect x="219" y="547" width="3" height="1" fill="#c0c0c0"/>
<rect x="223" y="548" width="3" height="1" fill="#c0c0c0"/>
<rect x="227" y="548" width="3" height="1" fill="#c0c0c0"/>
<rect x="231" y="548" width="3" height="1" fill="#c0c0c0"/>
<rect x="235" y="548" width="3" height="1" fill="#c0c0c0"/>
<rect x="239" y="548" width="3" height="2" fill="#c0c0c0"/>
<rect x="243" y="548" width="3" height="3" fill="#c0c0c0"/>
<rect x="247" y="548" width="3" height="4" fill="#c0c0c0"/>
<rect x="251" y="548" width="3" height="5" fill="#c0c0c0"/>
<rect x="255" y="548" width="3" height="8" fill="#c0c0c0"/>
<rect x="259" y="548" width="3" height="9" fill="#c0c0c0"/>
<rect x="263" y="548" width="3" height="7" fill="#c0c0c0"/>
<rect x="267" y="548" width="3" height="7" fill="#c0c0c0"/>
<rect x="271" y="548" width="3" height="5" fill="#c0c0c0"/>
<rect x="275" y="548" width="3" height="4" fill="#c0c0c0"/>
<rect x="279" y="548" width="3" height="4" fill="#c0c0c0"/>
<rect x="283" y="548" width="3" height="4" fill="#c0c0c0"/>
<rect x="287" y="548" width="3" height="6" fill="#c0c0c0"/>
<rect x="291" y="548" width="3" height="6" fill="#c0c0c0"/>
<rect x="295" y="548" width="3" height="6" fill="#c0c0c0"/>
<rect x="299" y="548" width="3" height="5" fill="#c0c0c0"/>
<rect x="303" y="548" width="3" height="1" fill="#c0c0c0"/>
<rect x="307" y="546" width="3" height="2" fill="#c0c0c0"/>
<rect x="311" y="544" width="3" height="4" fill="#c0c0c0"/>
<rect x="315" y="542" width="3" height="6" fill="#c0c0c0"/>
<rect x="319" y="540" width="3" height="8" fill="#c0c0c0"/>
<rect x="323" y="538" width="3" height="10" fill="#c0c0c0"/>
<rect x="327" y="540" width="3" height="8" fill="#c0c0c0"/>
<rect x="331" y="541" width="3" height="7" fill="#c0c0c0"/>
<rect x="335" y="542" width="3" height="6" fill="#c0c0c0"/>
<rect x="339" y="543" width="3" height="5" fill="#c0c0c0"/>
<rect x="343" y="543" width="3" height="5" fill="#c0c0c0"/>
<rect x="347" y="544" width="3" height="4" fill="#c0c0c0"/>
<rect x="351" y="545" width="3" height="3" fill="#c0c0c0"/>
<rect x="355" y="546" width="3" height="2" fill="#c0c0c0"/>
<rect x="359" y="547" width="3" height="1" fill="#c0c0c0"/>
<rect x="363" y="547" width="3" height="1" fill="#c0c0c0"/>
<rect x="367" y="546" width="3" height="2" fill="#c0c0c0"/>
<rect x="371" y="547" width="3" height="1" fill="#c0c0c0"/>
<rect x="375" y="546" width="3" height="2" fill="#c0c0c0"/>
<rect x="379" y="545" width="3" height="3" fill="#c0c0c0"/>
<rect x="383" y="544" width="3" height="4" fill="#c0c0c0"/>
<rect x="387" y="543" width="3" height="5" fill="#c0c0c0"/>
<rect x="391" y="543" width="3" height="5" fill="#c0c0c0"/>
<rect x="395" y="544" width="3" height="4" fill="#c0c0c0"/>
<rect x="399" y="546" width="3" height="2" fill="#c0c0c0"/>
<rect x="403" y="545" width="3" height="3" fill="#c0c0c0"/>
<rect x="407" y="544" width="3" height="4" fill="#c0c0c0"/>
<rect x="411" y="543" width="3" height="5" fill="#c0c0c0"/>
<rect x="415" y="542" width="3" height="6" fill="#c0c0c0"/>
<rect x="419" y="542" width="3" height="6" fill="#c0c0c0"/>
<rect x="423" y="543" width="3" height="5" fill="#c0c0c0"/>
<rect x="427" y="544" width="3" height="4" fill="#c0c0c0"/>
<rect x="431" y="545" width="3" height="3" fill="#c0c0c0"/>
<rect x="435" y="546" width="3" height="2" fill="#c0c0c0"/>
<rect x="439" y="547" width="3" height="1" fill="#c0c0c0"/>
<rect x="443" y="546" width="3" height="2" fill="#c0c0c0"/>
<rect x="447" y="545" width="3" height="3" fill="#c0c0c0"/>
<rect x="451" y="541" width="3" height="7" fill="#c0c0c0"/>
<rect x="455" y="538" width="3" height="10" fill="#c0c0c0"/>
<rect x="459" y="537" width="3" height="11" fill="#c0c0c0"/>
<rect x="463" y="536" width="3" height="12" fill="#c0c0c0"/>
<rect x="467" y="535" width="3" height="13" fill="#c0c0c0"/>
<rect x="471" y="536" width="3" height="12" fill="#c0c0c0"/>
<rect x="475" y="537" width="3" height="11" fill="#c0c0c0"/>
<rect x="479" y="537" width="3" height="11" fill="#c0c0c0"/>
<rect x="483" y="537" width="3" height="11" fill="#c0c0c0"/>
<rect x="487" y="538" width="3" height="10" fill="#c0c0c0"/>
<rect x="491" y="536" width="3" height="12" fill="#c0c0c0"/>
<rect x="495" y="535" width="3" height="13" fill="#c0c0c0"/>
<rect x="499" y="533" width="3" height="15" fill="#c0c0c0"/>
<rect x="503" y="532" width="3" height="16" fill="#c0c0c0"/>
<rect x="507" y="532" width="3" height="16" fill="#c0c0c0"/>
<rect x="511" y="532" width="3" height="16" fill="#c0c0c0"/>
<rect x="515" y="532" width="3" height="16" fill="#c0c0c0"/>
<rect x="519" y="532" width="3" height="16" fill="#c0c0c0"/>
<rect x="523" y="534" width="3" height="14" fill="#c0c0c0"/>
<rect x="527" y="530" width="3" height="18" fill="#c0c0c0"/>
<rect x="531" y="525" width="3" height="23" fill="#c0c0c0"/>
<rect x="535" y="523" width="3" height="25" fill="#c0c0c0"/>
<rect x="539" y="518" width="3" height="30" fill="#c0c0c0"/>
<rect x="543" y="514" width="3" height="34" fill="#c0c0c0"/>
<rect x="547" y="509" width="3" height="39" fill="#c0c0c0"/>
<rect x="551" y="506" width="3" height="42" fill="#c0c0c0"/>
<rect x="555" y="505" width="3" height="43" fill="#c0c0c0"/>
<rect x="559" y="503" width="3" height="45" fill="#c0c0c0"/>
<rect x="563" y="502" width="3" height="46" fill="#c0c0c0"/>
<rect x="567" y="500" width="3" height="48" fill="#c0c0c0"/>
<rect x="571" y="496" width="3" height="52" fill="#c0c0c0"/>
<rect x="575" y="495" width="3" height="53" fill="#c0c0c0"/>
<rect x="579" y="493" width="3" height="55" fill="#c0c0c0"/>
<rect x="583" y="492" width="3" height="56" fill="#c0c0c0"/>
<rect x="587" y="493" width="3" height="55" fill="#c0c0c0"/>
<rect x="591" y="498" width="3" height="50" fill="#c0c0c0"/>
<rect x="595" y="503" width="3" height="45" fill="#c0c0c0"/>
<rect x="599" y="508" width="3" height="40" fill="#c0c0c0"/>
<rect x="603" y="511" width="3" height="37" fill="#c0c0c0"/>
<rect x="607" y="513" width="3" height="35" fill="#c0c0c0"/>
<rect x="611" y="515" width="3" height="33" fill="#c0c0c0"/>
<rect x="615" y="518" width="3" height="30" fill="#c0c0c0"/>
<rect x="619" y="521" width="3" height="27" fill="#c0c0c0"/>
<rect x="623" y="527" width="3" height="21" fill="#c0c0c0"/>
<rect x="627" y="532" width="3" height="16" fill="#c0c0c0"/>
<rect x="631" y="535" width="3" height="13" fill="#c0c0c0"/>
<rect x="635" y="540" width="3" height="8" fill="#c0c0c0"/>
<rect x="639" y="546" width="3" height="2" fill="#c0c0c0"/>
<rect x="643" y="548" width="3" height="1" fill="#c0c0c0"/>
<rect x="647" y="548" width="3" height="2" fill="#c0c0c0"/>
<rect x="651" y="548" width="3" height="3" fill="#c0c0c0"/>
<rect x="655" y="548" width="3" height="3" fill="#c0c0c0"/>
<rect x="659" y="548" width="3" height="4" fill="#c0c0c0"/>
<rect x="663" y="548" width="3" height="5" fill="#c0c0c0"/>
<rect x="667" y="548" width="3" height="3" fill="#c0c0c0"/>
<rect x="671" y="548" width="3" height="2" fill="#c0c0c0"/>
<rect x="675" y="548" width="3" height="2" fill="#c0c0c0"/>
<rect x="679" y="548" width="3" height="3" fill="#c0c0c0"/>
<rect x="683" y="548" width="3" height="3" fill="#c0c0c0"/>
<rect x="687" y="548" width="3" height="5" fill="#c0c0c0"/>
<rect x="691" y="548" width="3" height="6" fill="#c0c0c0"/>
<rect x="695" y="548" width="3" height="5" fill="#c0c0c0"/>
<rect x="699" y="548" width="3" height="5" fill="#c0c0c0"/>
<rect x="703" y="548" width="3" height="5" fill="#c0c0c0"/>
<rect x="707" y="548" width="3" height="4" fill="#c0c0c0"/>
<rect x="711" y="548" width="3" height="2" fill="#c0c0c0"/>
<rect x="715" y="548" width="3" height="1" fill="#c0c0c0"/>
<rect x="719" y="547" width="3" height="1" fill="#c0c0c0"/>
<rect x="723" y="546" width="3" height="2" fill="#c0c0c0"/>
<rect x="727" y="545" width="3" height="3" fill="#c0c0c0"/>
<rect x="731" y="543" width="3" height="5" fill="#c0c0c0"/>
<rect x="735" y="540" width="3" height="8" fill="#c0c0c0"/>
<rect x="739" y="538" width="3" height="10" fill="#c0c0c0"/>
<rect x="743" y="536" width="3" height="12" fill="#c0c0c0"/>
<rect x="747" y="534" width="3" height="14" fill="#c0c0c0"/>
<rect x="751" y="533" width="3" height="15" fill="#c0c0c0"/>
<rect x="755" y="532" width="3" height="16" fill="#c0c0c0"/>
<rect x="759" y="533" width="3" height="15" fill="#c0c0c0"/>
<rect x="763" y="532" width="3" height="16" fill="#c0c0c0"/>
<rect x="767" y="532" width="3" height="16" fill="#c0c0c0"/>
<rect x="771" y="531" width="3" height="17" fill="#c0c0c0"/>
<rect x="775" y="532" width="3" height="16" fill="#c0c0c0"/>
<rect x="779" y="532" width="3" height="16" fill="#c0c0c0"/>
<rect x="783" y="534" width="3" height="14" fill="#c0c0c0"/>
<rect x="787" y="534" width="3" height="14" fill="#c0c0c0"/>
<rect x="791" y="532" width="3" height="16" fill="#c0c0c0"/>
<rect x="795" y="530" width="3" height="18" fill="#c0c0c0"/>
<rect x="799" y="530" width="3" height="18" fill="#c0c0c0"/>
<rect x="803" y="530" width="3" height="18" fill="#c0c0c0"/>
<rect x="807" y="534" width="3" height="14" fill="#c0c0c0"/>
<rect x="811" y="538" width="3" height="10" fill="#c0c0c0"/>
<rect x="815" y="544" width="3" height="4" fill="#c0c0c0"/>
<rect x="819" y="547" width="3" height="1" fill="#c0c0c0"/>
<rect x="823" y="548" width="3" height="1" fill="#c0c0c0"/>
<rect x="827" y="548" width="3" height="2" fill="#c0c0c0"/>
<rect x="831" y="548" width="3" height="3" fill="#c0c0c0"/>
<rect x="835" y="548" width="3" height="5" fill="#c0c0c0"/>
<rect x="839" y="548" width="3" height="6" fill="#c0c0c0"/>
<rect x="843" y="548" width="3" height="7" fill="#c0c0c0"/>
<rect x="847" y="548" width="3" height="9" fill="#c0c0c0"/>
<rect x="851" y="548" width="3" height="8" fill="#c0c0c0"/>
<rect x="855" y="548" width="3" height="3" fill="#c0c0c0"/>
<rect x="859" y="545" width="3" height="3" fill="#c0c0c0"/>
<rect x="863" y="539" width="3" height="9" fill="#c0c0c0"/>
<rect x="867" y="535" width="3" height="13" fill="#c0c0c0"/>
<rect x="871" y="532" width="3" height="16" fill="#c0c0c0"/>
<rect x="875" y="532" width="3" height="16" fill="#c0c0c0"/>
<rect x="879" y="531" width="3" height="17" fill="#c0c0c0"/>
<rect x="883" y="527" width="3" height="21" fill="#c0c0c0"/>
<rect x="887" y="525" width="3" height="23" fill="#c0c0c0"/>
<rect x="891" y="522" width="3" height="26" fill="#c0c0c0"/>
<rect x="895" y="520" width="3" height="28" fill="#c0c0c0"/>
<rect x="899" y="516" width="3" height="32" fill="#c0c0c0"/>
<rect x="903" y="514" width="3" height="34" fill="#c0c0c0"/>
<rect x="907" y="514" width="3" height="34" fill="#c0c0c0"/>
<rect x="911" y="514" width="3" height="34" fill="#c0c0c0"/>
<rect x="915" y="515" width="3" height="33" fill="#c0c0c0"/>
<rect x="919" y="515" width="3" height="33" fill="#c0c0c0"/>
<polyline points="0.5,554.0 4.5,555.3 8.5,556.8 12.5,558.5 16.5,560.1 20.5,561.6 24.5,562.7 28.5,563.6 32.5,564.3 36.5,564.5 40.5,564.2 44.5,563.6 48.5,562.2 52.5,560.6 56.5,558.9 60.5,556.9 64.5,555.3 68.5,554.0 72.5,553.2 76.5,552.5 80.5,552.0 84.5,552.0 88.5,552.5 92.5,553.0 96.5,553.8 100.5,554.4 104.5,554.7 108.5,554.8 112.5,554.8 116.5,554.7 120.5,554.6 124.5,554.5 128.5,554.6 132.5,554.7 136.5,554.9 140.5,554.9 144.5,554.8 148.5,554.7 152.5,554.9 156.5,554.6 160.5,554.0 164.5,553.0 168.5,551.6 172.5,550.0 176.5,548.4 180.5,546.9 184.5,545.5 188.5,544.3 192.5,543.5 196.5,543.1 200.5,543.0 204.5,543.1 208.5,543.6 212.5,544.3 216.5,545.0 220.5,545.7 224.5,546.3 228.5,546.8 232.5,547.2 236.5,547.6 240.5,548.2 244.5,548.9 248.5,549.6 252.5,550.4 256.5,551.3 260.5,552.4 264.5,553.1 268.5,553.7 272.5,554.2 276.5,554.4 280.5,554.4 284.5,554.4 288.5,554.4 292.5,554.2 296.5,553.9 300.5,553.6 304.5,553.1 308.5,552.3 312.5,551.4 316.5,550.3 320.5,548.9 324.5,547.1 328.5,545.6 332.5,544.1 336.5,542.9 340.5,542.2 344.5,541.9 348.5,541.8 352.5,542.1 356.5,542.9 360.5,543.9 364.5,544.6 368.5,545.2 372.5,545.7 376.5,546.0 380.5,546.3 384.5,546.3 388.5,546.1 392.5,545.7 396.5,545.4 400.5,545.3 404.5,545.2 408.5,544.9 412.5,544.6 416.5,544.3 420.5,544.1 424.5,544.1 428.5,544.2 432.5,544.4 436.5,544.4 440.5,544.5 444.5,544.8 448.5,545.0 452.5,544.9 456.5,544.5 460.5,543.8 464.5,542.9 468.5,541.8 472.5,540.8 476.5,539.7 480.5,538.6 484.5,537.8 488.5,537.4 492.5,537.1 496.5,536.9 500.5,536.5 504.5,536.1 508.5,535.6 512.5,535.1 516.5,534.5 520.5,534.0 524.5,533.5 528.5,532.8 532.5,531.7 536.5,530.6 540.5,529.1 544.5,527.1 548.5,524.5 552.5,521.6 556.5,518.6 560.5,515.1 564.5,512.0 568.5,509.2 572.5,506.3 576.5,503.8 580.5,501.5 584.5,499.5 588.5,498.1 592.5,497.3 596.5,497.3 600.5,497.9 604.5,499.1 608.5,501.0 612.5,503.2 616.5,506.0 620.5,509.3 624.5,513.1 628.5,516.9 632.5,520.5 636.5,524.1 640.5,528.0 644.5,532.0 648.5,535.9 652.5,539.5 656.5,542.9 660.5,545.6 664.5,547.9 668.5,549.6 672.5,550.8 676.5,551.3 680.5,551.4 684.5,551.6 688.5,551.9 692.5,552.1 696.5,552.3 700.5,552.3 704.5,552.5 708.5,552.8 712.5,552.8 716.5,552.6 720.5,552.1 724.5,551.3 728.5,550.3 732.5,549.1 736.5,547.7 740.5,546.1 744.5,544.3 748.5,542.5 752.5,540.7 756.5,539.0 760.5,537.5 764.5,536.1 768.5,534.9 772.5,533.9 776.5,533.1 780.5,532.6 784.5,532.7 788.5,532.8 792.5,532.8 796.5,532.6 800.5,532.3 804.5,532.1 808.5,532.4 812.5,533.2 816.5,534.5 820.5,535.9 824.5,537.6 828.5,539.7 832.5,542.0 836.5,544.5 840.5,547.3 844.5,549.7 848.5,551.7 852.5,553.0 856.5,553.5 860.5,553.0 864.5,551.8 868.5,550.0 872.5,547.7 876.5,545.2 880.5,542.5 884.5,539.1 888.5,535.8 892.5,532.5 896.5,529.8 900.5,527.2 904.5,524.9 908.5,522.9 912.5,520.9 916.5,519.1 920.5,517.8" fill="none" stroke="#ff0000" stroke-width="1"/>
</g>
<rect x="1" y="599" width="3" height="1" fill="#c0c0c0"/>
<rect x="1" y="633" width="3" height="1" fill="#c0c0c0"/>
<rect x="7" y="599" width="3" height="1" fill="#c0c0c0"/>
<rect x="7" y="633" width="3" height="1" fill="#c0c0c0"/>
<rect x="13" y="599" width="3" height="1" fill="#c0c0c0"/>
<rect x="13" y="633" width="3" height="1" fill="#c0c0c0"/>
<rect x="19" y="599" width="3" height="1" fill="#c0c0c0"/>
<rect x="19" y="633" width="3" height="1" fill="#c0c0c0"/>
<rect x="25" y="599" width="3" height="1" fill="#c0c0c0"/>
<rect x="25" y="633" width="3" height="1" fill="#c0c0c0"/>
<rect x="31" y="599" width="3" height="1" fill="#c0c0c0"/>
<rect x="31" y="633" width="3" height="1" fill="#c0c0c0"/>
<rect x="37" y="599" width="3" height="1" fill="#c0c0c0"/>
<rect x="37" y="633" width="3" height="1" fill="#c0c0c0"/>
<rect x="43" y="599" width="3" height="1" fill="#c0c0c0"/>
<rect x="43" y="633" width="3" height="1" fill="#c0c0c0"/>
<rect x="49" y="599" width="3" height="1" fill="#c0c0c0"/>
<rect x="49" y="633" width="3" height="1" fill="#c0c0c0"/>
<rect x="55" y="599" width="3" height="1" fill="#c0c0c0"/>
<rect x="55" y="633" width="3" height="1" fill="#c0c0c0"/>
<rect x="61" y="599" width="3" height="1" fill="#c0c0c0"/>
<rect x="61" y="633" width="3" height="1" fill="#c0c0c0"/>
<rect x="67" y="599" width="3" height="1" fill="#c0c0c0"/>
<rect x="67" y="633" width="3" height="1" fill="#c0c0c0"/>
<rect x="73" y="599" width="3" height="1" fill="#c0c0c0"/>
<rect x="73" y="633" width="3" height="1" fill="#c0c0c0"/>
<rect x="79" y="599" width="3" height="1" fill="#c0c0c0"/>
<rect x="79" y="633" width="3" height="1" fill="#c0c0c0"/>
<rect x="85" y="599" width="3" height="1" fill="#c0c0c0"/>
<rect x="85" y="633" width="3" height="1" fill="#c0c0c0"/>
<rect x="91" y="599" width="3" height="1" fill="#c0c0c0"/>
<rect x="91" y="633" width="3" height="1" fill="#c0c0c0"/>
<rect x="97" y="599" width="3" height="1" fill="#c0c0c0"/>
<rect x="97" y="633" width="3" height="1" fill="#c0c0c0"/>
<rect x="103" y="599" width="3" height="1" fill="#c0c0c0"/>
<rect x="103" y="633" width="3" height="1" fill="#c0c0c0"/>
<rect x="109" y="599" width="3" height="1" fill="#c0c0c0"/>
<rect x="109" y="633" width="3" height="1" fill="#c0c0c0"/>
<rect x="115" y="599" width="3" height="1" fill="#c0c0c0"/>
<rect x="115" y="633" width="3" height="1" fill="#c0c0c0"/>
<rect x="121" y="599" width="3" height="1" fill="#c0c0c0"/>
<rect x="121" y="633" width="3" height="1" fill="#c0c0c0"/>
<rect x="127" y="599" width="3" height="1" fill="#c0c0c0"/>
<rect x="127" y="633" width="3" height="1" fill="#c0c0c0"/>
<rect x="133" y="599" width="3" height="1" fill="#c0c0c0"/>
<rect x="133" y="633" width="3" height="1" fill="#c0c0c0"/>
<rect x="139" y="599" width="3" height="1" fill="#c0c0c0"/>
<rect x="139" y="633" width="3" height="1" fill="#c0c0c0"/>
<rect x="145" y="599" width="3" height="1" fill="#c0c0c0"/>
<rect x="145" y="633" width="3" height="1" fill="#c0c0c0"/>
<rect x="151" y="599" width="3" height="1" fill="#c0c0c0"/>
<rect x="151" y="633" width="3" height="1" fill="#c0c0c0"/>
<rect x="157" y="599" width="3" height="1" fill="#c0c0c0"/>
<rect x="157" y="633" width="3" height="1" fill="#c0c0c0"/>
<rect x="163" y="599" width="3" height="1" fill="#c0c0c0"/>
<rect x="163" y="633" width="3" height="1" fill="#c0c0c0"/>
<rect x="169" y="599" width="3" height="1" fill="#c0c0c0"/>
<rect x="169" y="633" width="3" height="1" fill="#c0c0c0"/>
<rect x="175" y="599" width="3" height="1" fill="#c0c0c0"/>
<rect x="175" y="633" width="3" height="1" fill="#c0c0c0"/>
<rect x="181" y="599" width="3" height="1" fill="#c0c0c0"/>
<rect x="181" y="633" width="3" height="1" fill="#c0c0c0"/>
<rect x="187" y="599" width="3" height="1" fill="#c0c0c0"/>
<rect x="187" y="633" width="3" height="1" fill="#c0c0c0"/>
<rect x="193" y="599" width="3" height="1" fill="#c0c0c0"/>
<rect x="193" y="633" width="3" height="1" fill="#c0c0c0"/>
<rect x="199" y="599" width="3" height="1" fill="#c0c0c0"/>
<rect x="199" y="633" width="3" height="1" fill="#c0c0c0"/>
<rect x="205" y="599" width="3" height="1" fill="#c0c0c0"/>
<rect x="205" y="633" width="3" height="1" fill="#c0c0c0"/>
<rect x="211" y="599" width="3" height="1" fill="#c0c0c0"/>
<rect x="211" y="633" width="3" height="1" fill="#c0c0c0"/>
<rect x="217" y="599" width="3" height="1" fill="#c0c0c0"/>
<rect x="217" y="633" width="3" height="1" fill="#c0c0c0"/>
<rect x="223" y="599" width="3" height="1" fill="#c0c0c0"/>
<rect x="223" y="633" width="3" height="1" fill="#c0c0c0"/>
<rect x="229" y="599" width="3" height="1" fill="#c0c0c0"/>
<rect x="229" y="633" width="3" height="1" fill="#c0c0c0"/>
<rect x="235" y="599" width="3" height="1" fill="#c0c0c0"/>
<rect x="235" y="633" width="3" height="1" fill="#c0c0c0"/>
<rect x="241" y="599" width="3" height="1" fill="#c0c0c0"/>
<rect x="241" y="633" width="3" height="1" fill="#c0c0c0"/>
<rect x="247" y="599" width="3" height="1" fill="#c0c0c0"/>
<rect x="247" y="633" width="3" height="1" fill="#c0c0c0"/>
<rect x="253" y="599" width="3" height="1" fill="#c0c0c0"/>
<rect x="253" y="633" width="3" height="1" fill="#c0c0c0"/>
<rect x="259" y="599" width="3" height="1" fill="#c0c0c0"/>
<rect x="259" y="633" width="3" height="1" fill="#c0c0c0"/>
<rect x="265" y="599" width="3" height="1" fill="#c0c0c0"/>
<rect x="265" y="633" width="3" height="1" fill="#c0c0c0"/>
<rect x="271" y="599" width="3" height="1" fill="#c0c0c0"/>
<rect x="271" y="633" width="3" height="1" fill="#c0c0c0"/>
<rect x="277" y="599" width="3" height="1" fill="#c0c0c0"/>
<rect x="277" y="633" width="3" height="1" fill="#c0c0c0"/>
<rect x="283" y="599" width="3" height="1" fill="#c0c0c0"/>
<rect x="283" y="633" width="3" height="1" fill="#c0c0c0"/>
<rect x="289" y="599" width="3" height="1" fill="#c0c0c0"/>
<rect x="289" y="633" width="3" height="1" fill="#c0c0c0"/>
<rect x="295" y="599" width="3" height="1" fill="#c0c0c0"/>
<rect x="295" y="633" width="3" height="1" fill="#c0c0c0"/>
<rect x="301" y="599" width="3" height="1" fill="#c0c0c0"/>
<rect x="301" y="633" width="3" height="1" fill="#c0c0c0"/>
<rect x="307" y="599" width="3" height="1" fill="#c0c0c0"/>
<rect x="307" y="633" width="3" height="1" fill="#c0c0c0"/>
<rect x="313" y="599" width="3" height="1" fill="#c0c0c0"/>
<rect x="313" y="633" width="3" height="1" fill="#c0c0c0"/>
<rect x="319" y="599" width="3" height="1" fill="#c0c0c0"/>
<rect x="319" y="633" width="3" height="1" fill="#c0c0c0"/>
<rect x="325" y="599" width="3" height="1" fill="#c0c0c0"/>
<rect x="325" y="633" width="3" height="1" fill="#c0c0c0"/>
<rect x="331" y="599" width="3" height="1" fill="#c0c0c0"/>
<rect x="331" y="633" width="3" height="1" fill="#c0c0c0"/>
<rect x="337" y="599" width="3" height="1" fill="#c0c0c0"/>
<rect x="337" y="633" width="3" height="1" fill="#c0c0c0"/>
<rect x="343" y="599" width="3" height="1" fill="#c0c0c0"/>
<rect x="343" y="633" width="3" height="1" fill="#c0c0c0"/>
<rect x="349" y="599" width="3" height="1" fill="#c0c0c0"/>
<rect x="349" y="633" width="3" height="1" fill="#c0c0c0"/>
<rect x="355" y="599" width="3" height="1" fill="#c0c0c0"/>
<rect x="355" y="633" width="3" height="1" fill="#c0c0c0"/>
<rect x="361" y="599" width="3" height="1" fill="#c0c0c0"/>
<rect x="361" y="633" width="3" height="1" fill="#c0c0c0"/>
<rect x="367" y="599" width="3" height="1" fill="#c0c0c0"/>
<rect x="367" y="633" width="3" height="1" fill="#c0c0c0"/>
<rect x="373" y="599" width="3" height="1" fill="#c0c0c0"/>
<rect x="373" y="633" width="3" height="1" fill="#c0c0c0"/>
<rect x="379" y="599" width="3" height="1" fill="#c0c0c0"/>
<rect x="379" y="633" width="3" height="1" fill="#c0c0c0"/>
<rect x="385" y="599" width="3" height="1" fill="#c0c0c0"/>
<rect x="385" y="633" width="3" height="1" fill="#c0c0c0"/>
<rect x="391" y="599" width="3" height="1" fill="#c0c0c0"/>
<rect x="391" y="633" width="3" height="1" fill="#c0c0c0"/>
<rect x="397" y="599" width="3" height="1" fill="#c0c0c0"/>
<rect x="397" y="633" width="3" height="1" fill="#c0c0c0"/>
<rect x="403" y="599" width="3" height="1" fill="#c0c0c0"/>
<rect x="403" y="633" width="3" height="1" fill="#c0c0c0"/>
<rect x="409" y="599" width="3" height="1" fill="#c0c0c0"/>
<rect x="409" y="633" width="3" height="1" fill="#c0c0c0"/>
<rect x="415" y="599" width="3" height="1" fill="#c0c0c0"/>
<rect x="415" y="633" width="3" height="1" fill="#c0c0c0"/>
<rect x="421" y="599" width="3" height="1" fill="#c0c0c0"/>
<rect x="421" y="633" width="3" height="1" fill="#c0c0c0"/>
<rect x="427" y="599" width="3" height="1" fill="#c0c0c0"/>
<rect x="427" y="633" width="3" height="1" fill="#c0c0c0"/>
<rect x="433" y="599" width="3" height="1" fill="#c0c0c0"/>
<rect x="433" y="633" width="3" height="1" fill="#c0c0c0"/>
<rect x="439" y="599" width="3" height="1" fill="#c0c0c0"/>
<rect x="439" y="633" width="3" height="1" fill="#c0c0c0"/>
<rect x="445" y="599" width="3" height="1" fill="#c0c0c0"/>
<rect x="445" y="633" width="3" height="1" fill="#c0c0c0"/>
<rect x="451" y="599" width="3" height="1" fill="#c0c0c0"/>
<rect x="451" y="633" width="3" height="1" fill="#c0c0c0"/>
<rect x="457" y="599" width="3" height="1" fill="#c0c0c0"/>
<rect x="457" y="633" width="3" height="1" fill="#c0c0c0"/>
<rect x="463" y="599" width="3" height="1" fill="#c0c0c0"/>
<rect x="463" y="633" width="3" height="1" fill="#c0c0c0"/>
<rect x="469" y="599" width="3" height="1" fill="#c0c0c0"/>
<rect x="469" y="633" width="3" height="1" fill="#c0c0c0"/>
<rect x="475" y="599" width="3" height="1" fill="#c0c0c0"/>
<rect x="475" y="633" width="3" height="1" fill="#c0c0c0"/>
<rect x="481" y="599" width="3" height="1" fill="#c0c0c0"/>
<rect x="481" y="633" width="3" height="1" fill="#c0c0c0"/>
<rect x="487" y="599" width="3" height="1" fill="#c0c0c0"/>
<rect x="487" y="633" width="3" height="1" fill="#c0c0c0"/>
<rect x="493" y="599" width="3" height="1" fill="#c0c0c0"/>
<rect x="493" y="633" width="3" height="1" fill="#c0c0c0"/>
<rect x="499" y="599" width="3" height="1" fill="#c0c0c0"/>
<rect x="499" y="633" width="3" height="1" fill="#c0c0c0"/>
<rect x="505" y="599" width="3" height="1" fill="#c0c0c0"/>
<rect x="505" y="633" width="3" height="1" fill="#c0c0c0"/>
<rect x="511" y="599" width="3" height="1" fill="#c0c0c0"/>
<rect x="511" y="633" width="3" height="1" fill="#c0c0c0"/>
<rect x="517" y="599" width="3" height="1" fill="#c0c0c0"/>
<rect x="517" y="633" width="3" height="1" fill="#c0c0c0"/>
<rect x="523" y="599" width="3" height="1" fill="#c0c0c0"/>
<rect x="523" y="633" width="3" height="1" fill="#c0c0c0"/>
<rect x="529" y="599" width="3" height="1" fill="#c0c0c0"/>
<rect x="529" y="633" width="3" height="1" fill="#c0c0c0"/>
<rect x="535" y="599" width="3" height="1" fill="#c0c0c0"/>
<rect x="535" y="633" width="3" height="1" fill="#c0c0c0"/>
<rect x="541" y="599" width="3" height="1" fill="#c0c0c0"/>
<rect x="541" y="633" width="3" height="1" fill="#c0c0c0"/>
<rect x="547" y="599" width="3" height="1" fill="#c0c0c0"/>
<rect x="547" y="633" width="3" height="1" fill="#c0c0c0"/>
<rect x="553" y="599" width="3" height="1" fill="#c0c0c0"/>
<rect x="553" y="633" width="3" height="1" fill="#c0c0c0"/>
<rect x="559" y="599" width="3" height="1" fill="#c0c0c0"/>
<rect x="559" y="633" width="3" height="1" fill="#c0c0c0"/>
<rect x="565" y="599" width="3" height="1" fill="#c0c0c0"/>
<rect x="565" y="633" width="3" height="1" fill="#c0c0c0"/>
<rect x="571" y="599" width="3" height="1" fill="#c0c0c0"/>
<rect x="571" y="633" width="3" height="1" fill="#c0c0c0"/>
<rect x="577" y="599" width="3" height="1" fill="#c0c0c0"/>
<rect x="577" y="633" width="3" height="1" fill="#c0c0c0"/>
<rect x="583" y="599" width="3" height="1" fill="#c0c0c0"/>
<rect x="583" y="633" width="3" height="1" fill="#c0c0c0"/>
<rect x="589" y="599" width="3" height="1" fill="#c0c0c0"/>
<rect x="589" y="633" width="3" height="1" fill="#c0c0c0"/>
<rect x="595" y="599" width="3" height="1" fill="#c0c0c0"/>
<rect x="595" y="633" width="3" height="1" fill="#c0c0c0"/>
<rect x="601" y="599" width="3" height="1" fill="#c0c0c0"/>
<rect x="601" y="633" width="3" height="1" fill="#c0c0c0"/>
<rect x="607" y="599" width="3" height="1" fill="#c0c0c0"/>
<rect x="607" y="633" width="3" height="1" fill="#c0c0c0"/>
<rect x="613" y="599" width="3" height="1" fill="#c0c0c0"/>
<rect x="613" y="633" width="3" height="1" fill="#c0c0c0"/>
<rect x="619" y="599" width="3" height="1" fill="#c0c0c0"/>
<rect x="619" y="633" width="3" height="1" fill="#c0c0c0"/>
<rect x="625" y="599" width="3" height="1" fill="#c0c0c0"/>
<rect x="625" y="633" width="3" height="1" fill="#c0c0c0"/>
<rect x="631" y="599" width="3" height="1" fill="#c0c0c0"/>
<rect x="631" y="633" width="3" height="1" fill="#c0c0c0"/>
<rect x="637" y="599" width="3" height="1" fill="#c0c0c0"/>
<rect x="637" y="633" width="3" height="1" fill="#c0c0c0"/>
<rect x="643" y="599" width="3" height="1" fill="#c0c0c0"/>
<rect x="643" y="633" width="3" height="1" fill="#c0c0c0"/>
<rect x="649" y="599" width="3" height="1" fill="#c0c0c0"/>
<rect x="649" y="633" width="3" height="1" fill="#c0c0c0"/>
<rect x="655" y="599" width="3" height="1" fill="#c0c0c0"/>
<rect x="655" y="633" width="3" height="1" fill="#c0c0c0"/>
<rect x="661" y="599" width="3" height="1" fill="#c0c0c0"/>
<rect x="661" y="633" width="3" height="1" fill="#c0c0c0"/>
<rect x="667" y="599" width="3" height="1" fill="#c0c0c0"/>
<rect x="667" y="633" width="3" height="1" fill="#c0c0c0"/>
<rect x="673" y="599" width="3" height="1" fill="#c0c0c0"/>
<rect x="673" y="633" width="3" height="1" fill="#c0c0c0"/>
<rect x="679" y="599" width="3" height="1" fill="#c0c0c0"/>
<rect x="679" y="633" width="3" height="1" fill="#c0c0c0"/>
<rect x="685" y="599" width="3" height="1" fill="#c0c0c0"/>
<rect x="685" y="633" width="3" height="1" fill="#c0c0c0"/>
<rect x="691" y="599" width="3" height="1" fill="#c0c0c0"/>
<rect x="691" y="633" width="3" height="1" fill="#c0c0c0"/>
<rect x="697" y="599" width="3" height="1" fill="#c0c0c0"/>
<rect x="697" y="633" width="3" height="1" fill="#c0c0c0"/>
<rect x="703" y="599" width="3" height="1" fill="#c0c0c0"/>
<rect x="703" y="633" width="3" height="1" fill="#c0c0c0"/>
<rect x="709" y="599" width="3" height="1" fill="#c0c0c0"/>
<rect x="709" y="633" width="3" height="1" fill="#c0c0c0"/>
<rect x="715" y="599" width="3" height="1" fill="#c0c0c0"/>
<rect x="715" y="633" width="3" height="1" fill="#c0c0c0"/>
<rect x="721" y="599" width="3" height="1" fill="#c0c0c0"/>
<rect x="721" y="633" width="3" height="1" fill="#c0c0c0"/>
<rect x="727" y="599" width="3" height="1" fill="#c0c0c0"/>
<rect x="727" y="633" width="3" height="1" fill="#c0c0c0"/>
<rect x="733" y="599" width="3" height="1" fill="#c0c0c0"/>
<rect x="733" y="633" width="3" height="1" fill="#c0c0c0"/>
<rect x="739" y="599" width="3" height="1" fill="#c0c0c0"/>
<rect x="739" y="633" width="3" height="1" fill="#c0c0c0"/>
<rect x="745" y="599" width="3" height="1" fill="#c0c0c0"/>
<rect x="745" y="633" width="3" height="1" fill="#c0c0c0"/>
<rect x="751" y="599" width="3" height="1" fill="#c0c0c0"/>
<rect x="751" y="633" width="3" height="1" fill="#c0c0c0"/>
<rect x="757" y="599" width="3" height="1" fill="#c0c0c0"/>
<rect x="757" y="633" width="3" height="1" fill="#c0c0c0"/>
<rect x="763" y="599" width="3" height="1" fill="#c0c0c0"/>
<rect x="763" y="633" width="3" height="1" fill="#c0c0c0"/>
<rect x="769" y="599" width="3" height="1" fill="#c0c0c0"/>
<rect x="769" y="633" width="3" height="1" fill="#c0c0c0"/>
<rect x="775" y="599" width="3" height="1" fill="#c0c0c0"/>
<rect x="775" y="633" width="3" height="1" fill="#c0c0c0"/>
<rect x="781" y="599" width="3" height="1" fill="#c0c0c0"/>
<rect x="781" y="633" width="3" height="1" fill="#c0c0c0"/>
<rect x="787" y="599" width="3" height="1" fill="#c0c0c0"/>
<rect x="787" y="633" width="3" height="1" fill="#c0c0c0"/>
<rect x="793" y="599" width="3" height="1" fill="#c0c0c0"/>
<rect x="793" y="633" width="3" height="1" fill="#c0c0c0"/>
<rect x="799" y="599" width="3" height="1" fill="#c0c0c0"/>
<rect x="799" y="633" width="3" height="1" fill="#c0c0c0"/>
<rect x="805" y="599" width="3" height="1" fill="#c0c0c0"/>
<rect x="805" y="633" width="3" height="1" fill="#c0c0c0"/>
<rect x="811" y="599" width="3" height="1" fill="#c0c0c0"/>
<rect x="811" y="633" width="3" height="1" fill="#c0c0c0"/>
<rect x="817" y="599" width="3" height="1" fill="#c0c0c0"/>
<rect x="817" y="633" width="3" height="1" fill="#c0c0c0"/>
<rect x="823" y="599" width="3" height="1" fill="#c0c0c0"/>
<rect x="823" y="633" width="3" height="1" fill="#c0c0c0"/>
<rect x="829" y="599" width="3" height="1" fill="#c0c0c0"/>
<rect x="829" y="633" width="3" height="1" fill="#c0c0c0"/>
<rect x="835" y="599" width="3" height="1" fill="#c0c0c0"/>
<rect x="835" y="633" width="3" height="1" fill="#c0c0c0"/>
<rect x="841" y="599" width="3" height="1" fill="#c0c0c0"/>
<rect x="841" y="633" width="3" height="1" fill="#c0c0c0"/>
<rect x="847" y="599" width="3" height="1" fill="#c0c0c0"/>
<rect x="847" y="633" width="3" height="1" fill="#c0c0c0"/>
<rect x="853" y="599" width="3" height="1" fill="#c0c0c0"/>
<rect x="853" y="633" width="3" height="1" fill="#c0c0c0"/>
<rect x="859" y="599" width="3" height="1" fill="#c0c0c0"/>
<rect x="859" y="633" width="3" height="1" fill="#c0c0c0"/>
<rect x="865" y="599" width="3" height="1" fill="#c0c0c0"/>
<rect x="865" y="633" width="3" height="1" fill="#c0c0c0"/>
<rect x="871" y="599" width="3" height="1" fill="#c0c0c0"/>
<rect x="871" y="633" width="3" height="1" fill="#c0c0c0"/>
<rect x="877" y="599" width="3" height="1" fill="#c0c0c0"/>
<rect x="877" y="633" width="3" height="1" fill="#c0c0c0"/>
<rect x="883" y="599" width="3" height="1" fill="#c0c0c0"/>
<rect x="883" y="633" width="3" height="1" fill="#c0c0c0"/>
<rect x="889" y="599" width="3" height="1" fill="#c0c0c0"/>
<rect x="889" y="633" width="3" height="1" fill="#c0c0c0"/>
<rect x="895" y="599" width="3" height="1" fill="#c0c0c0"/>
<rect x="895" y="633" width="3" height="1" fill="#c0c0c0"/>
<rect x="901" y="599" width="3" height="1" fill="#c0c0c0"/>
<rect x="901" y="633" width="3" height="1" fill="#c0c0c0"/>
<rect x="907" y="599" width="3" height="1" fill="#c0c0c0"/>
<rect x="907" y="633" width="3" height="1" fill="#c0c0c0"/>
<rect x="913" y="599" width="3" height="1" fill="#c0c0c0"/>
<rect x="913" y="633" width="3" height="1" fill="#c0c0c0"/>
<rect x="919" y="599" width="3" height="1" fill="#c0c0c0"/>
<rect x="919" y="633" width="3" height="1" fill="#c0c0c0"/>
<rect x="925" y="599" width="3" height="1" fill="#c0c0c0"/>
<rect x="925" y="633" width="3" height="1" fill="#c0c0c0"/>
<rect x="931" y="599" width="3" height="1" fill="#c0c0c0"/>
<rect x="931" y="633" width="3" height="1" fill="#c0c0c0"/>
<rect x="937" y="599" width="3" height="1" fill="#c0c0c0"/>
<rect x="937" y="633" width="3" height="1" fill="#c0c0c0"/>
<rect x="943" y="599" width="3" height="1" fill="#c0c0c0"/>
<rect x="943" y="633" width="3" height="1" fill="#c0c0c0"/>
<rect x="949" y="599" width="3" height="1" fill="#c0c0c0"/>
<rect x="949" y="633" width="3" height="1" fill="#c0c0c0"/>
<rect x="955" y="599" width="3" height="1" fill="#c0c0c0"/>
<rect x="955" y="633" width="3" height="1" fill="#c0c0c0"/>
<rect x="961" y="599" width="3" height="1" fill="#c0c0c0"/>
<rect x="961" y="633" width="3" height="1" fill="#c0c0c0"/>
<rect x="967" y="599" width="3" height="1" fill="#c0c0c0"/>
<rect x="967" y="633" width="3" height="1" fill="#c0c0c0"/>
<rect x="973" y="599" width="3" height="1" fill="#c0c0c0"/>
<rect x="973" y="633" width="3" height="1" fill="#c0c0c0"/>
<rect x="979" y="599" width="3" height="1" fill="#c0c0c0"/>
<rect x="979" y="633" width="3" height="1" fill="#c0c0c0"/>
<rect x="985" y="599" width="3" height="1" fill="#c0c0c0"/>
<rect x="985" y="633" width="3" height="1" fill="#c0c0c0"/>
<rect x="991" y="599" width="3" height="1" fill="#c0c0c0"/>
<rect x="991" y="633" width="3" height="1" fill="#c0c0c0"/>
<rect x="997" y="599" width="3" height="1" fill="#c0c0c0"/>
<rect x="997" y="633" width="3" height="1" fill="#c0c0c0"/>
<rect x="1003" y="599" width="3" height="1" fill="#c0c0c0"/>
<rect x="1003" y="633" width="3" height="1" fill="#c0c0c0"/>
<rect x="1009" y="599" width="3" height="1" fill="#c0c0c0"/>
<rect x="1009" y="633" width="3" height="1" fill="#c0c0c0"/>
<rect x="1015" y="599" width="3" height="1" fill="#c0c0c0"/>
<rect x="1015" y="633" width="3" height="1" fill="#c0c0c0"/>
<rect x="1021" y="599" width="3" height="1" fill="#c0c0c0"/>
<rect x="1021" y="633" width="3" height="1" fill="#c0c0c0"/>
<rect x="1027" y="599" width="3" height="1" fill="#c0c0c0"/>
<rect x="1027" y="633" width="3" height="1" fill="#c0c0c0"/>
<rect x="1033" y="599" width="3" height="1" fill="#c0c0c0"/>
<rect x="1033" y="633" width="3" height="1" fill="#c0c0c0"/>
<rect x="1039" y="599" width="3" height="1" fill="#c0c0c0"/>
<rect x="1039" y="633" width="3" height="1" fill="#c0c0c0"/>
<rect x="1045" y="599" width="3" height="1" fill="#c0c0c0"/>
<rect x="1045" y="633" width="3" height="1" fill="#c0c0c0"/>
<rect x="1051" y="599" width="3" height="1" fill="#c0c0c0"/>
<rect x="1051" y="633" width="3" height="1" fill="#c0c0c0"/>
<rect x="1057" y="599" width="3" height="1" fill="#c0c0c0"/>
<rect x="1057" y="633" width="3" height="1" fill="#c0c0c0"/>
<rect x="1063" y="599" width="3" height="1" fill="#c0c0c0"/>
<rect x="1063" y="633" width="3" height="1" fill="#c0c0c0"/>
<rect x="1069" y="599" width="3" height="1" fill="#c0c0c0"/>
<rect x="1069" y="633" width="3" height="1" fill="#c0c0c0"/>
<rect x="1075" y="599" width="3" height="1" fill="#c0c0c0"/>
<rect x="1075" y="633" width="3" height="1" fill="#c0c0c0"/>
<rect x="1081" y="599" width="3" height="1" fill="#c0c0c0"/>
<rect x="1081" y="633" width="3" height="1" fill="#c0c0c0"/>
<rect x="1087" y="599" width="3" height="1" fill="#c0c0c0"/>
<rect x="1087" y="633" width="3" height="1" fill="#c0c0c0"/>
<rect x="1093" y="599" width="3" height="1" fill="#c0c0c0"/>
<rect x="1093" y="633" width="3" height="1" fill="#c0c0c0"/>
<rect x="1099" y="599" width="3" height="1" fill="#c0c0c0"/>
<rect x="1099" y="633" width="3" height="1" fill="#c0c0c0"/>
<rect x="1105" y="599" width="3" height="1" fill="#c0c0c0"/>
<rect x="1105" y="633" width="3" height="1" fill="#c0c0c0"/>
<rect x="1111" y="599" width="3" height="1" fill="#c0c0c0"/>
<rect x="1111" y="633" width="3" height="1" fill="#c0c0c0"/>
<rect x="1117" y="599" width="3" height="1" fill="#c0c0c0"/>
<rect x="1117" y="633" width="3" height="1" fill="#c0c0c0"/>
<rect x="1123" y="599" width="3" height="1" fill="#c0c0c0"/>
<rect x="1123" y="633" width="3" height="1" fill="#c0c0c0"/>
<rect x="1129" y="599" width="3" height="1" fill="#c0c0c0"/>
<rect x="1129" y="633" width="3" height="1" fill="#c0c0c0"/>
<rect x="1135" y="599" width="3" height="1" fill="#c0c0c0"/>
<rect x="1135" y="633" width="3" height="1" fill="#c0c0c0"/>
<rect x="1141" y="599" width="3" height="1" fill="#c0c0c0"/>
<rect x="1141" y="633" width="3" height="1" fill="#c0c0c0"/>
<rect x="1147" y="599" width="3" height="1" fill="#c0c0c0"/>
<rect x="1147" y="633" width="3" height="1" fill="#c0c0c0"/>
<rect x="1153" y="599" width="3" height="1" fill="#c0c0c0"/>
<rect x="1153" y="633" width="3" height="1" fill="#c0c0c0"/>
<rect x="1159" y="599" width="3" height="1" fill="#c0c0c0"/>
<rect x="1159" y="633" width="3" height="1" fill="#c0c0c0"/>
<g clip-path="url(#crsi)">
<polyline points="0.5,628.8 4.5,630.8 8.5,630.9 12.5,632.7 16.5,627.2 20.5,624.6 24.5,624.6 28.5,621.3 32.5,623.0 36.5,617.6 40.5,620.0 44.5,616.5 48.5,609.6 52.5,610.4 56.5,613.2 60.5,609.1 64.5,620.4 68.5,624.5 72.5,622.9 76.5,619.4 80.5,619.0 84.5,623.1 88.5,622.0 92.5,618.2 96.5,620.5 100.5,618.0 104.5,619.4 108.5,620.1 112.5,618.1 116.5,615.2 120.5,623.9 124.5,621.9 128.5,622.7 132.5,623.7 136.5,618.5 140.5,616.1 144.5,617.2 148.5,618.8 152.5,621.3 156.5,614.4 160.5,608.0 164.5,607.6 168.5,606.5 172.5,604.2 176.5,608.3 180.5,610.0 184.5,617.3 188.5,618.7 192.5,620.9 196.5,616.3 200.5,615.2 204.5,613.3 208.5,616.8 212.5,615.3 216.5,617.7 220.5,620.3 224.5,617.7 228.5,620.3 232.5,617.1 236.5,619.7 240.5,620.0 244.5,624.5 248.5,623.3 252.5,624.2 256.5,630.6 260.5,626.0 264.5,615.7 268.5,617.9 272.5,615.4 276.5,614.3 280.5,618.1 284.5,621.2 288.5,624.1 292.5,621.8 296.5,619.6 300.5,616.8 304.5,607.1 308.5,605.2 312.5,609.5 316.5,606.1 320.5,605.8 324.5,605.5 328.5,618.1 332.5,614.9 336.5,618.0 340.5,614.9 344.5,613.7 348.5,617.3 352.5,617.3 356.5,620.6 360.5,616.6 364.5,615.6 368.5,614.4 372.5,616.1 376.5,613.4 380.5,611.8 384.5,608.8 388.5,611.6 392.5,611.9 396.5,616.5 400.5,623.0 404.5,613.1 408.5,610.7 412.5,610.1 416.5,611.6 420.5,612.5 424.5,617.0 428.5,616.2 432.5,618.6 436.5,618.6 440.5,618.6 444.5,614.1 448.5,608.6 452.5,601.6 456.5,600.9 460.5,606.2 464.5,605.7 468.5,605.0 472.5,612.4 476.5,612.5 480.5,609.4 484.5,608.4 488.5,613.8 492.5,604.2 496.5,606.1 500.5,601.8 504.5,606.0 508.5,607.3 512.5,608.2 516.5,607.2 520.5,608.2 524.5,612.8 528.5,598.7 532.5,596.7 536.5,599.8 540.5,595.0 544.5,594.4 548.5,592.6 552.5,592.3 556.5,595.8 560.5,593.4 564.5,595.6 568.5,593.3 572.5,590.5 576.5,593.5 580.5,592.1 584.5,591.2 588.5,599.7 592.5,607.3 596.5,609.4 600.5,611.3 604.5,608.9 608.5,607.8 612.5,607.5 616.5,609.5 620.5,612.6 624.5,621.1 628.5,618.3 632.5,619.4 636.5,622.7 640.5,627.4 644.5,622.6 648.5,618.7 652.5,619.4 656.5,618.6 660.5,620.0 664.5,619.7 668.5,613.2 672.5,616.0 676.5,617.1 680.5,618.9 684.5,618.6 688.5,624.5 692.5,619.9 696.5,617.8 700.5,617.4 704.5,619.2 708.5,616.4 712.5,611.6 716.5,614.2 720.5,610.9 724.5,613.0 728.5,612.4 732.5,607.3 736.5,606.2 740.5,605.7 744.5,603.2 748.5,602.8 752.5,603.9 756.5,602.0 760.5,611.9 764.5,606.0 768.5,607.8 772.5,606.9 776.5,607.3 780.5,606.9 784.5,616.4 788.5,609.1 792.5,604.4 796.5,604.5 800.5,605.4 804.5,606.9 808.5,619.9 812.5,622.7 816.5,626.8 820.5,621.8 824.5,622.1 828.5,620.8 832.5,619.5 836.5,623.5 840.5,622.7 844.5,623.1 848.5,625.1 852.5,616.7 856.5,608.8 860.5,602.1 864.5,602.2 868.5,601.8 872.5,603.6 876.5,609.2 880.5,607.6 884.5,600.6 888.5,605.2 892.5,602.1 896.5,601.5 900.5,597.7 904.5,603.1 908.5,603.8 912.5,604.1 916.5,603.6 920.5,604.6" fill="none" stroke="#1e90ff" stroke-width="1"/>
</g>
<rect x="1163" y="52" width="2" height="1" fill="#000"/>
<rect x="1163" y="85" width="2" height="1" fill="#000"/>
<rect x="1163" y="118" width="2" height="1" fill="#000"/>
<rect x="1163" y="151" width="2" height="1" fill="#000"/>
<rect x="1163" y="184" width="2" height="1" fill="#000"/>
<rect x="1163" y="217" width="2" height="1" fill="#000"/>
<rect x="1163" y="250" width="2" height="1" fill="#000"/>
<rect x="1163" y="283" width="2" height="1" fill="#000"/>
<rect x="1163" y="316" width="2" height="1" fill="#000"/>
<rect x="1163" y="349" width="2" height="1" fill="#000"/>
<rect x="1163" y="382" width="2" height="1" fill="#000"/>
<rect x="1163" y="415" width="2" height="1" fill="#000"/>
<rect x="1163" y="448" width="2" height="1" fill="#000"/>
<rect x="1163" y="481" width="2" height="1" fill="#000"/>
<rect x="1163" y="488" width="1" height="1" fill="#000"/>
<rect x="1163" y="548" width="2" height="1" fill="#000"/>
<rect x="1163" y="569" width="2" height="1" fill="#000"/>
<rect x="1163" y="574" width="1" height="1" fill="#000"/>
<rect x="1163" y="599" width="2" height="1" fill="#000"/>
<rect x="1163" y="633" width="2" height="1" fill="#000"/>
<rect x="1163" y="658" width="2" height="1" fill="#000"/>
<rect x="0" y="660" width="1" height="3" fill="#000"/>
<rect x="64" y="660" width="1" height="3" fill="#000"/>
<rect x="128" y="660" width="1" height="3" fill="#000"/>
<rect x="192" y="660" width="1" height="3" fill="#000"/>
<rect x="256" y="660" width="1" height="3" fill="#000"/>
<rect x="320" y="660" width="1" height="3" fill="#000"/>
<rect x="384" y="660" width="1" height="3" fill="#000"/>
<rect x="448" y="660" width="1" height="3" fill="#000"/>
<rect x="512" y="660" width="1" height="3" fill="#000"/>
<rect x="576" y="660" width="1" height="3" fill="#000"/>
<rect x="640" y="660" width="1" height="3" fill="#000"/>
<rect x="704" y="660" width="1" height="3" fill="#000"/>
<rect x="768" y="660" width="1" height="3" fill="#000"/>
<rect x="832" y="660" width="1" height="3" fill="#000"/>
<rect x="896" y="660" width="1" height="3" fill="#000"/>
</svg>
<div class="t" style="left:1168px;top:48.8px;">1.25820</div>
<div class="t" style="left:1168px;top:81.8px;">1.25370</div>
<div class="t" style="left:1168px;top:114.8px;">1.24920</div>
<div class="t" style="left:1168px;top:147.8px;">1.24470</div>
<div class="t" style="left:1168px;top:180.8px;">1.24010</div>
<div class="t" style="left:1168px;top:213.8px;">1.23560</div>
<div class="t" style="left:1168px;top:246.8px;">1.23110</div>
<div class="t" style="left:1168px;top:279.8px;">1.22660</div>
<div class="t" style="left:1168px;top:312.8px;">1.22210</div>
<div class="t" style="left:1168px;top:345.8px;">1.21750</div>
<div class="t" style="left:1168px;top:378.8px;">1.21300</div>
<div class="t" style="left:1168px;top:411.8px;">1.20850</div>
<div class="t" style="left:1168px;top:444.8px;">1.20390</div>
<div class="t" style="left:1168px;top:477.8px;">1.19940</div>
<div class="t" style="left:-1.5px;top:664.8px;letter-spacing:0.43px">18 May 2021</div>
<div class="t" style="left:63px;top:664.8px;letter-spacing:0.27px">20 May 18:00</div>
<div class="t" style="left:127px;top:664.8px;letter-spacing:0.31px">25 May 10:00</div>
<div class="t" style="left:191px;top:664.8px;letter-spacing:0.31px">28 May 00:00</div>
<div class="t" style="left:255px;top:664.8px;letter-spacing:0.12px">1 Jun 18:00</div>
<div class="t" style="left:319px;top:664.8px;letter-spacing:0.12px">4 Jun 10:00</div>
<div class="t" style="left:383px;top:664.8px;letter-spacing:0.22px">9 Jun 00:00</div>
<div class="t" style="left:447px;top:664.8px;letter-spacing:0.27px">11 Jun 18:00</div>
<div class="t" style="left:511px;top:664.8px;letter-spacing:0.22px">16 Jun 10:00</div>
<div class="t" style="left:575px;top:664.8px;letter-spacing:0.08px">19 Jun 00:00</div>
<div class="t" style="left:639px;top:664.8px;letter-spacing:0.13px">23 Jun 18:00</div>
<div class="t" style="left:703px;top:664.8px;letter-spacing:0.28px">28 Jun 11:00</div>
<div class="t" style="left:767px;top:664.8px;letter-spacing:0.17px">1 Jul 00:00</div>
<div class="t" style="left:831px;top:664.8px;letter-spacing:0.17px">5 Jul 19:00</div>
<div class="t" style="left:895px;top:664.8px;letter-spacing:0.31px">8 Jul 10:00</div>
<svg width="1203" height="708" shape-rendering="crispEdges">
<rect x="1164" y="48" width="39" height="11" fill="#ff0000"/>
<rect x="1162" y="53" width="2" height="1" fill="#000"/>
<rect x="1164" y="117" width="39" height="11" fill="#ff0000"/>
<rect x="1162" y="122" width="2" height="1" fill="#000"/>
<rect x="1164" y="186" width="39" height="11" fill="#00ff00"/>
<rect x="1162" y="191" width="2" height="1" fill="#000"/>
<rect x="1164" y="252" width="39" height="11" fill="#0000ff"/>
<rect x="1162" y="257" width="2" height="1" fill="#000"/>
<rect x="1164" y="310" width="39" height="11" fill="#0000ff"/>
<rect x="1162" y="315" width="2" height="1" fill="#000"/>
<rect x="1164" y="368" width="39" height="11" fill="#0000ff"/>
<rect x="1162" y="373" width="2" height="1" fill="#000"/>
<rect x="1164" y="84" width="39" height="11" fill="#000"/>
</svg>
<div class="t tb" style="left:-3.5px;top:5.2px;">5</div>
<div class="t tb" style="left:11.3px;top:5.2px;">M30</div>
<div class="t tb" style="left:41.8px;top:5.2px;">H1</div>
<div class="t tb" style="left:68.9px;top:5.2px;">H4</div>
<div class="t tb" style="left:98.0px;top:5.2px;">D1</div>
<div class="t tb" style="left:125.5px;top:5.2px;">W1</div>
<div class="t tb" style="left:152.0px;top:5.2px;">MN</div>
<svg style="position:absolute;left:3px;top:31px" width="7" height="4"><polygon points="0,4 3.5,0 7,4" fill="#000"/></svg>
<div class="t hd" style="left:14.8px;top:29.2px;">USDCAD,H4</div>
<div class="t" style="left:76.8px;top:29.2px;">1.25360</div>
<div class="t" style="left:113.0px;top:29.2px;">1.25393</div>
<div class="t" style="left:148.5px;top:29.2px;">1.25319</div>
<div class="t" style="left:184.5px;top:29.2px;">1.25326</div>
<div class="t" style="left:4.2px;top:492.2px;letter-spacing:0.25px">MACD(12,26,9)</div>
<div class="t" style="left:72.9px;top:492.2px;">0.004251</div>
<div class="t" style="left:113.6px;top:492.2px;">0.003990</div>
<div class="t" style="left:4.0px;top:578.2px;letter-spacing:0.3px">RSI(14)</div>
<div class="t" style="left:38.6px;top:578.2px;">64.8103</div>
<div class="t" style="left:1165.8px;top:490.2px;">0.007826</div>
<div class="t" style="left:1165.8px;top:545.2px;">0.00</div>
<div class="t" style="left:1165.3px;top:560.2px;">-0.002859</div>
<div class="t" style="left:1166.2px;top:576.2px;">100</div>
<div class="t" style="left:1165.6px;top:596.2px;">70</div>
<div class="t" style="left:1165.6px;top:630.2px;">30</div>
<div class="t" style="left:1166.0px;top:650.2px;">0</div><div class="t w" style="left:1168.3px;top:49.2px;">1.25801</div>
<div class="t w" style="left:1168.3px;top:118.2px;">1.24852</div>
<div class="t w" style="left:1168.3px;top:187.2px;">1.23906</div>
<div class="t w" style="left:1168.3px;top:253.2px;">1.23005</div>
<div class="t w" style="left:1168.3px;top:311.2px;">1.22205</div>
<div class="t w" style="left:1168.3px;top:369.2px;">1.21406</div>
<div class="t w" style="left:1168.3px;top:85.2px;">1.25326</div><svg style="position:absolute;left:0;top:0" width="230" height="105" shape-rendering="crispEdges">
<defs>
<linearGradient id="gu" x1="0" y1="0" x2="0" y2="1"><stop offset="0" stop-color="#5a5aff"/><stop offset="1" stop-color="#3834e2"/></linearGradient>
<linearGradient id="gl" x1="0" y1="0" x2="0" y2="1"><stop offset="0" stop-color="#3430e0"/><stop offset="0.6" stop-color="#1410c0"/><stop offset="1" stop-color="#0202aa"/></linearGradient>
<linearGradient id="gb" x1="0" y1="0" x2="0" y2="1"><stop offset="0" stop-color="#f4f4f4"/><stop offset="0.38" stop-color="#ececec"/><stop offset="0.4" stop-color="#dcdcdc"/><stop offset="1" stop-color="#d2d2d2"/></linearGradient>
</defs>
<rect x="1" y="43" width="222" height="59" fill="#fff"/>
<rect x="3" y="44" width="52" height="25" fill="url(#gu)"/>
<rect x="3" y="68" width="109" height="33" fill="url(#gl)"/>
<rect x="170" y="44" width="52" height="25" fill="url(#gu)"/>
<rect x="114" y="68" width="108" height="33" fill="url(#gl)"/>
<g fill="#0000a8">
<rect x="3" y="44" width="52" height="1"/><rect x="3" y="44" width="1" height="57"/><rect x="54" y="44" width="1" height="25"/>
<rect x="54" y="68" width="58" height="1"/><rect x="111" y="68" width="1" height="33"/><rect x="3" y="100" width="109" height="1"/>
<rect x="170" y="44" width="52" height="1"/><rect x="221" y="44" width="1" height="57"/><rect x="170" y="44" width="1" height="25"/>
<rect x="114" y="68" width="57" height="1"/><rect x="114" y="68" width="1" height="33"/><rect x="114" y="100" width="108" height="1"/>
</g>
<rect x="7" y="67" width="45" height="1" fill="#00007a"/><rect x="7" y="68" width="45" height="1" fill="#7c7cff"/>
<rect x="174" y="67" width="44" height="1" fill="#00007a"/><rect x="174" y="68" width="44" height="1" fill="#7c7cff"/>
<rect x="57" y="44" width="111" height="22" fill="#acacb4"/>
<rect x="58" y="45" width="109" height="20" fill="#fff"/>
<rect x="58" y="45" width="20" height="20" fill="#fafafa"/><rect x="59" y="46" width="18" height="18" fill="url(#gb)"/>
<rect x="78" y="45" width="1" height="20" fill="#acacb4"/>
<rect x="147" y="45" width="20" height="20" fill="#fafafa"/><rect x="148" y="46" width="18" height="18" fill="url(#gb)"/>
<rect x="146" y="45" width="1" height="20" fill="#acacb4"/>
<polygon points="65,53 71,53 68,56" fill="#4a5cc8" shape-rendering="auto"/>
<polygon points="153,56.5 159.5,56.5 156.25,53.2" fill="#4a5cc8" shape-rendering="auto"/>
</svg>
<div class="p" style="left:14.5px;top:50.5px;font-size:11px">SELL</div>
<div class="p" style="left:183px;top:50.5px;font-size:11px">BUY</div>
<div class="p" style="left:119.5px;top:49.5px;font-size:12px;color:#000">3.00</div>
<div class="p" style="left:22.5px;top:85.5px;font-size:12px;font-weight:bold;letter-spacing:0.6px">1.25</div>
<div class="p" style="left:132.5px;top:85.5px;font-size:12px;font-weight:bold;letter-spacing:0.6px">1.25</div>
<div class="p" style="left:49.5px;top:66px;font-size:34px;letter-spacing:-1.3px">32</div>
<div class="p" style="left:160.5px;top:66px;font-size:34px;letter-spacing:-1.3px">34</div>
<div class="p" style="left:89.5px;top:69.5px;font-size:12.5px;font-weight:bold">9</div>
<div class="p" style="left:201.5px;top:69.5px;font-size:12.5px;font-weight:bold">3</div><div style="position:absolute;left:0;top:680px;width:1203px;height:1px;background:#e2e2e2"></div>
<div style="position:absolute;left:0;top:682px;width:1203px;height:1px;background:#000"></div>
<div style="position:absolute;left:0;top:683px;width:1203px;height:1px;background:#fcfcfc"></div>
<div style="position:absolute;left:0;top:684px;width:1203px;height:18px;background:#f0f0f0"></div>
<div style="position:absolute;left:0;top:702px;width:1203px;height:1px;background:#fff"></div>
<div style="position:absolute;left:0;top:703px;width:1203px;height:3px;background:#eeeeee"></div>
<div style="position:absolute;left:0;top:706px;width:1203px;height:1px;background:#a0a0a0"></div>
<div style="position:absolute;left:0;top:707px;width:1203px;height:1px;background:#f6f6f6"></div>
<div style="position:absolute;left:285px;top:682px;width:92px;height:19px;background:#fff;border:1px solid #000;border-top:none"></div>

<div style="position:absolute;left:93px;top:685px;width:1px;height:14px;background:#5a5a5a"></div>
<div style="position:absolute;left:197px;top:685px;width:1px;height:14px;background:#5a5a5a"></div>
<div style="position:absolute;left:481px;top:685px;width:1px;height:14px;background:#5a5a5a"></div>
<div style="position:absolute;left:556px;top:685px;width:1px;height:14px;background:#5a5a5a"></div>
<div style="position:absolute;left:625px;top:685px;width:1px;height:14px;background:#5a5a5a"></div>
<div style="position:absolute;left:701px;top:685px;width:1px;height:14px;background:#5a5a5a"></div>
<div style="position:absolute;left:801px;top:685px;width:1px;height:14px;background:#5a5a5a"></div>
<div style="position:absolute;left:905px;top:685px;width:1px;height:14px;background:#5a5a5a"></div>
<div class="p" style="left:13.0px;top:686px;font-size:12px;color:#6a6a6a;letter-spacing:0.00px">EURUSD,H4</div>
<div class="p" style="left:103.5px;top:686px;font-size:12px;color:#6a6a6a;letter-spacing:0.16px">AUDUSD,Daily</div>
<div class="p" style="left:207.0px;top:686px;font-size:12px;color:#6a6a6a;letter-spacing:0.00px">USDCHF,H4</div>
<div class="p" style="left:296.4px;top:686px;font-size:12px;color:#000;letter-spacing:-0.15px">USDCAD,H4</div>
<div class="p" style="left:386.8px;top:686px;font-size:12px;color:#6a6a6a;letter-spacing:0.21px">USDCNH,Daily</div>
<div class="p" style="left:492.5px;top:686px;font-size:12px;color:#6a6a6a;letter-spacing:0.57px">UKOil,H4</div>
<div class="p" style="left:566.5px;top:686px;font-size:12px;color:#6a6a6a;letter-spacing:0.28px">DJ30,H1</div>
<div class="p" style="left:636.3px;top:686px;font-size:12px;color:#6a6a6a;letter-spacing:0.12px">USDX,H1</div>
<div class="p" style="left:710.5px;top:686px;font-size:12px;color:#6a6a6a;letter-spacing:0.27px">XAUUSD,M30</div>
<div class="p" style="left:812.3px;top:686px;font-size:12px;color:#6a6a6a;letter-spacing:0.00px">GBPUSD,Daily</div>
<svg style="position:absolute;left:1178px;top:688px" width="3" height="6"><polygon points="3,0 3,6 0,3" fill="#909090"/></svg>
<svg style="position:absolute;left:1197px;top:688px" width="3" height="6"><polygon points="0,0 0,6 3,3" fill="#909090"/></svg>
</body></html>
